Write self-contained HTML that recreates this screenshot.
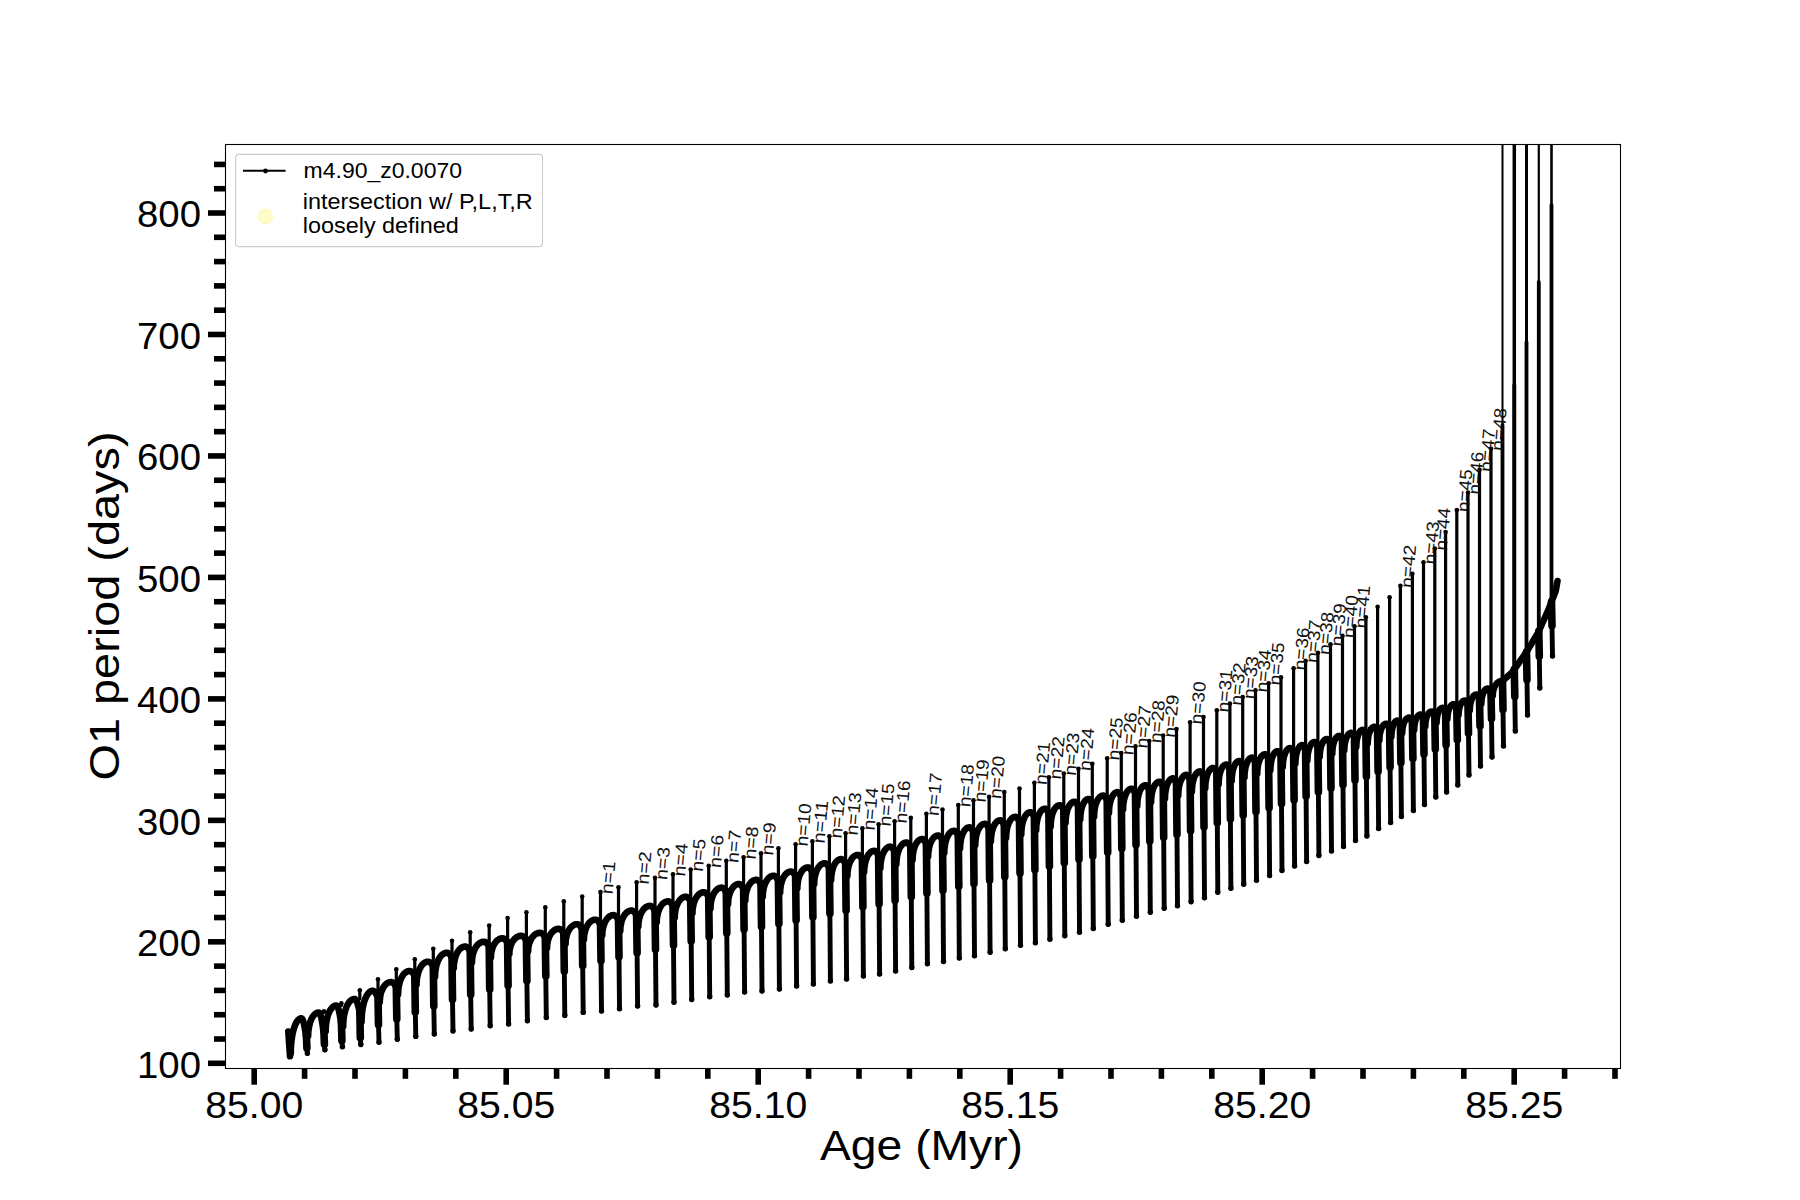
<!DOCTYPE html><html><head><meta charset="utf-8"><style>html,body{margin:0;padding:0;background:#fff;}svg{display:block;}</style></head><body><svg width="1800" height="1200" viewBox="0 0 1800 1200">
<rect width="1800" height="1200" fill="#fff"/>
<defs><clipPath id="ax"><rect x="225.5" y="144.5" width="1395" height="924"/></clipPath></defs>
<g clip-path="url(#ax)" fill="none" stroke="#000" stroke-linecap="round" stroke-linejoin="round">
<path d="M323.9,1011.3 L323.9,1012.5" stroke-width="3.2"/>
<path d="M341.4,1003.3 L341.4,1005.5" stroke-width="3.2"/>
<path d="M359.8,990.3 L359.8,999.0" stroke-width="3.2"/>
<path d="M378.0,979.3 L378.0,990.8" stroke-width="3.2"/>
<path d="M396.3,969.3 L396.3,982.0" stroke-width="3.2"/>
<path d="M414.8,959.3 L414.8,971.0" stroke-width="3.2"/>
<path d="M433.3,948.8 L433.3,961.7" stroke-width="3.2"/>
<path d="M452.0,940.8 L452.0,952.7" stroke-width="3.2"/>
<path d="M470.2,932.3 L470.2,946.5" stroke-width="3.2"/>
<path d="M489.2,925.6 L489.2,941.7" stroke-width="3.2"/>
<path d="M507.6,918.1 L507.6,938.3" stroke-width="3.2"/>
<path d="M526.4,912.3 L526.4,935.8" stroke-width="3.2"/>
<path d="M545.3,907.3 L545.3,932.8" stroke-width="3.2"/>
<path d="M563.8,901.3 L563.8,928.8" stroke-width="3.2"/>
<path d="M582.2,896.5 L582.2,924.2" stroke-width="3.2"/>
<path d="M600.5,892.0 L600.5,919.7" stroke-width="3.2"/>
<path d="M618.5,887.3 L618.5,915.1" stroke-width="3.2"/>
<path d="M636.6,882.3 L636.6,910.5" stroke-width="3.2"/>
<path d="M655.0,877.8 L655.0,905.9" stroke-width="3.2"/>
<path d="M673.0,874.2 L673.0,901.3" stroke-width="3.2"/>
<path d="M690.7,869.6 L690.7,896.7" stroke-width="3.2"/>
<path d="M708.7,865.7 L708.7,892.2" stroke-width="3.2"/>
<path d="M726.3,860.8 L726.3,887.6" stroke-width="3.2"/>
<path d="M743.6,857.3 L743.6,884.0" stroke-width="3.2"/>
<path d="M761.0,853.3 L761.0,879.9" stroke-width="3.2"/>
<path d="M778.4,848.3 L778.4,875.7" stroke-width="3.2"/>
<path d="M795.6,844.3 L795.6,871.5" stroke-width="3.2"/>
<path d="M812.4,841.3 L812.4,867.4" stroke-width="3.2"/>
<path d="M829.4,836.3 L829.4,863.2" stroke-width="3.2"/>
<path d="M845.6,833.3 L845.6,859.1" stroke-width="3.2"/>
<path d="M862.4,828.3 L862.4,855.0" stroke-width="3.2"/>
<path d="M878.6,824.3 L878.6,850.8" stroke-width="3.2"/>
<path d="M894.6,821.3 L894.6,846.6" stroke-width="3.2"/>
<path d="M910.8,817.8 L910.8,842.5" stroke-width="3.2"/>
<path d="M926.4,813.8 L926.4,839.0" stroke-width="3.2"/>
<path d="M942.5,809.6 L942.5,835.5" stroke-width="3.2"/>
<path d="M958.3,805.0 L958.3,830.8" stroke-width="3.2"/>
<path d="M973.5,800.3 L973.5,827.3" stroke-width="3.2"/>
<path d="M989.1,796.8 L989.1,823.8" stroke-width="3.2"/>
<path d="M1004.3,792.1 L1004.3,820.3" stroke-width="3.2"/>
<path d="M1019.5,788.6 L1019.5,816.8" stroke-width="3.2"/>
<path d="M1034.4,782.8 L1034.4,812.2" stroke-width="3.2"/>
<path d="M1048.9,777.3 L1048.9,808.7" stroke-width="3.2"/>
<path d="M1063.8,773.5 L1063.8,805.2" stroke-width="3.2"/>
<path d="M1078.5,768.8 L1078.5,801.7" stroke-width="3.2"/>
<path d="M1092.3,763.8 L1092.3,799.0" stroke-width="3.2"/>
<path d="M1107.2,758.3 L1107.2,795.6" stroke-width="3.2"/>
<path d="M1121.3,753.0 L1121.3,792.1" stroke-width="3.2"/>
<path d="M1135.5,746.3 L1135.5,788.7" stroke-width="3.2"/>
<path d="M1149.3,741.0 L1149.3,785.2" stroke-width="3.2"/>
<path d="M1163.2,735.6 L1163.2,781.8" stroke-width="3.2"/>
<path d="M1176.5,729.0 L1176.5,778.3" stroke-width="3.2"/>
<path d="M1190.1,722.3 L1190.1,774.9" stroke-width="3.2"/>
<path d="M1203.5,717.0 L1203.5,771.4" stroke-width="3.2"/>
<path d="M1216.8,710.3 L1216.8,768.0" stroke-width="3.2"/>
<path d="M1229.9,703.6 L1229.9,764.5" stroke-width="3.2"/>
<path d="M1242.7,697.0 L1242.7,761.1" stroke-width="3.2"/>
<path d="M1255.5,690.3 L1255.5,757.6" stroke-width="3.2"/>
<path d="M1268.6,683.3 L1268.6,754.2" stroke-width="3.2"/>
<path d="M1281.0,677.3 L1281.0,751.2" stroke-width="3.2"/>
<path d="M1293.6,668.3 L1293.6,748.1" stroke-width="3.2"/>
<path d="M1305.6,660.8 L1305.6,745.1" stroke-width="3.2"/>
<path d="M1317.9,652.7 L1317.9,742.0" stroke-width="3.2"/>
<path d="M1330.5,644.3 L1330.5,739.0" stroke-width="3.2"/>
<path d="M1342.5,635.9 L1342.5,735.9" stroke-width="3.2"/>
<path d="M1354.5,626.3 L1354.5,732.9" stroke-width="3.2"/>
<path d="M1365.9,617.3 L1365.9,729.8" stroke-width="3.2"/>
<path d="M1377.6,606.8 L1377.6,726.8" stroke-width="3.2"/>
<path d="M1389.6,597.3 L1389.6,723.7" stroke-width="3.2"/>
<path d="M1400.4,585.8 L1400.4,720.6" stroke-width="3.2"/>
<path d="M1412.4,573.8 L1412.4,717.6" stroke-width="3.2"/>
<path d="M1423.5,562.3 L1423.5,714.5" stroke-width="3.2"/>
<path d="M1434.8,548.6 L1434.8,711.5" stroke-width="3.2"/>
<path d="M1445.6,532.1 L1445.6,707.8" stroke-width="3.2"/>
<path d="M1456.8,510.1 L1456.8,704.2" stroke-width="3.2"/>
<path d="M1468.0,492.6 L1468.0,700.5" stroke-width="3.2"/>
<path d="M1479.5,469.8 L1479.5,694.5" stroke-width="3.2"/>
<path d="M1491.0,448.8 L1491.0,688.5" stroke-width="3.2"/>
<path d="M1502.5,102.3 L1502.5,681.0" stroke-width="2.0"/>
<path d="M1502.5,425.0 L1502.5,681.0" stroke-width="3.8"/>
<path d="M1514.3,102.3 L1514.3,669.4" stroke-width="3.5"/>
<path d="M1514.3,385.0 L1514.3,669.4" stroke-width="3.8"/>
<path d="M1526.5,102.3 L1526.5,652.0" stroke-width="3.0"/>
<path d="M1526.5,342.0 L1526.5,652.0" stroke-width="3.8"/>
<path d="M1538.8,102.3 L1538.8,631.3" stroke-width="2.2"/>
<path d="M1538.8,282.0 L1538.8,631.3" stroke-width="3.8"/>
<path d="M1551.5,102.3 L1551.5,601.8" stroke-width="2.6"/>
<path d="M1551.5,205.0 L1551.5,601.8" stroke-width="3.8"/>
<path d="M306.4,1035.8 L306.9,1048.0" stroke-width="7.6"/>
<path d="M323.9,1031.2 L324.4,1044.2" stroke-width="7.6"/>
<path d="M341.4,1022.0 L341.9,1040.6" stroke-width="7.6"/>
<path d="M359.8,1010.4 L360.3,1037.7" stroke-width="7.6"/>
<path d="M378.0,997.0 L378.5,1024.7" stroke-width="7.6"/>
<path d="M396.3,986.6 L396.8,1018.9" stroke-width="7.6"/>
<path d="M414.8,975.0 L415.3,1012.1" stroke-width="7.6"/>
<path d="M433.3,965.7 L433.8,1006.0" stroke-width="7.6"/>
<path d="M452.0,956.7 L452.5,999.5" stroke-width="7.6"/>
<path d="M470.2,950.5 L470.7,994.5" stroke-width="7.6"/>
<path d="M489.2,945.7 L489.7,989.2" stroke-width="7.6"/>
<path d="M507.6,942.3 L508.1,985.4" stroke-width="7.6"/>
<path d="M526.4,939.8 L526.9,980.8" stroke-width="7.6"/>
<path d="M545.3,936.8 L545.8,976.0" stroke-width="7.6"/>
<path d="M563.8,932.8 L564.3,971.3" stroke-width="7.6"/>
<path d="M582.2,928.2 L582.7,965.7" stroke-width="7.6"/>
<path d="M600.5,923.7 L601.0,960.8" stroke-width="7.6"/>
<path d="M618.5,919.1 L619.0,956.9" stroke-width="7.6"/>
<path d="M636.6,914.5 L637.1,952.8" stroke-width="7.6"/>
<path d="M655.0,909.9 L655.5,949.4" stroke-width="7.6"/>
<path d="M673.0,905.3 L673.5,945.2" stroke-width="7.6"/>
<path d="M690.7,900.7 L691.2,941.1" stroke-width="7.6"/>
<path d="M708.7,896.2 L709.2,936.9" stroke-width="7.6"/>
<path d="M726.3,891.6 L726.8,933.1" stroke-width="7.6"/>
<path d="M743.6,888.0 L744.1,929.4" stroke-width="7.6"/>
<path d="M761.0,883.9 L761.5,926.7" stroke-width="7.6"/>
<path d="M778.4,879.7 L778.9,923.6" stroke-width="7.6"/>
<path d="M795.6,875.5 L796.1,920.1" stroke-width="7.6"/>
<path d="M812.4,871.4 L812.9,917.0" stroke-width="7.6"/>
<path d="M829.4,867.2 L829.9,913.5" stroke-width="7.6"/>
<path d="M845.6,863.1 L846.1,910.4" stroke-width="7.6"/>
<path d="M862.4,859.0 L862.9,906.9" stroke-width="7.6"/>
<path d="M878.6,854.8 L879.1,903.9" stroke-width="7.6"/>
<path d="M894.6,850.6 L895.1,900.4" stroke-width="7.6"/>
<path d="M910.8,846.5 L911.3,896.7" stroke-width="7.6"/>
<path d="M926.4,843.0 L926.9,893.2" stroke-width="7.6"/>
<path d="M942.5,839.5 L943.0,890.4" stroke-width="7.6"/>
<path d="M958.3,834.8 L958.8,886.4" stroke-width="7.6"/>
<path d="M973.5,831.3 L974.0,883.6" stroke-width="7.6"/>
<path d="M989.1,827.8 L989.6,880.3" stroke-width="7.6"/>
<path d="M1004.3,824.3 L1004.8,876.8" stroke-width="7.6"/>
<path d="M1019.5,820.8 L1020.0,873.3" stroke-width="7.6"/>
<path d="M1034.4,816.2 L1034.9,869.7" stroke-width="7.6"/>
<path d="M1048.9,812.7 L1049.4,866.2" stroke-width="7.6"/>
<path d="M1063.8,809.2 L1064.3,862.7" stroke-width="7.6"/>
<path d="M1078.5,805.7 L1079.0,859.2" stroke-width="7.6"/>
<path d="M1092.3,803.0 L1092.8,856.0" stroke-width="7.6"/>
<path d="M1107.2,799.6 L1107.7,852.2" stroke-width="7.6"/>
<path d="M1121.3,796.1 L1121.8,848.5" stroke-width="7.6"/>
<path d="M1135.5,792.7 L1136.0,844.8" stroke-width="7.6"/>
<path d="M1149.3,789.2 L1149.8,841.1" stroke-width="7.6"/>
<path d="M1163.2,785.8 L1163.7,837.4" stroke-width="7.6"/>
<path d="M1176.5,782.3 L1177.0,834.4" stroke-width="7.6"/>
<path d="M1190.1,778.9 L1190.6,830.7" stroke-width="7.6"/>
<path d="M1203.5,775.4 L1204.0,827.0" stroke-width="7.6"/>
<path d="M1216.8,772.0 L1217.3,822.7" stroke-width="7.6"/>
<path d="M1229.9,768.5 L1230.4,819.0" stroke-width="7.6"/>
<path d="M1242.7,765.1 L1243.2,815.3" stroke-width="7.6"/>
<path d="M1255.5,761.6 L1256.0,811.6" stroke-width="7.6"/>
<path d="M1268.6,758.2 L1269.1,807.6" stroke-width="7.6"/>
<path d="M1281.0,755.2 L1281.5,803.7" stroke-width="7.6"/>
<path d="M1293.6,752.1 L1294.1,800.0" stroke-width="7.6"/>
<path d="M1305.6,749.1 L1306.1,796.3" stroke-width="7.6"/>
<path d="M1317.9,746.0 L1318.4,791.9" stroke-width="7.6"/>
<path d="M1330.5,743.0 L1331.0,788.3" stroke-width="7.6"/>
<path d="M1342.5,739.9 L1343.0,784.6" stroke-width="7.6"/>
<path d="M1354.5,736.9 L1355.0,780.2" stroke-width="7.6"/>
<path d="M1365.9,733.8 L1366.4,776.5" stroke-width="7.6"/>
<path d="M1377.6,730.8 L1378.1,771.5" stroke-width="7.6"/>
<path d="M1389.6,727.7 L1390.1,767.2" stroke-width="7.6"/>
<path d="M1400.4,724.6 L1400.9,762.8" stroke-width="7.6"/>
<path d="M1412.4,721.6 L1412.9,758.5" stroke-width="7.6"/>
<path d="M1423.5,718.5 L1424.0,754.1" stroke-width="7.6"/>
<path d="M1434.8,715.5 L1435.3,749.1" stroke-width="7.6"/>
<path d="M1445.6,711.8 L1446.1,744.9" stroke-width="7.6"/>
<path d="M1456.8,708.2 L1457.3,739.7" stroke-width="7.6"/>
<path d="M1468.0,704.5 L1468.5,733.3" stroke-width="7.6"/>
<path d="M1479.5,698.5 L1480.0,726.0" stroke-width="7.6"/>
<path d="M1491.0,692.5 L1491.5,718.6" stroke-width="7.6"/>
<path d="M1502.5,681.0 L1503.0,709.6" stroke-width="7.6"/>
<path d="M1514.3,669.4 L1514.8,696.5" stroke-width="7.6"/>
<path d="M1526.5,652.0 L1527.0,679.7" stroke-width="7.6"/>
<path d="M1538.8,631.3 L1539.3,656.3" stroke-width="7.6"/>
<path d="M1551.5,601.8 L1552.0,625.6" stroke-width="7.6"/>
<path d="M306.9,1048.0 L307.4,1053.3" stroke-width="4.9"/>
<path d="M324.4,1044.2 L324.9,1049.8" stroke-width="4.9"/>
<path d="M341.9,1040.6 L342.4,1046.8" stroke-width="4.9"/>
<path d="M360.3,1037.7 L360.8,1044.5" stroke-width="4.9"/>
<path d="M378.5,1024.7 L379.0,1042.2" stroke-width="4.9"/>
<path d="M396.8,1018.9 L397.3,1039.3" stroke-width="4.9"/>
<path d="M415.3,1012.1 L415.8,1036.4" stroke-width="4.9"/>
<path d="M433.8,1006.0 L434.3,1034.0" stroke-width="4.9"/>
<path d="M452.5,999.5 L453.0,1031.0" stroke-width="4.9"/>
<path d="M470.7,994.5 L471.2,1029.0" stroke-width="4.9"/>
<path d="M489.7,989.2 L490.2,1025.7" stroke-width="4.9"/>
<path d="M508.1,985.4 L508.6,1024.0" stroke-width="4.9"/>
<path d="M526.9,980.8 L527.4,1020.7" stroke-width="4.9"/>
<path d="M545.8,976.0 L546.3,1017.5" stroke-width="4.9"/>
<path d="M564.3,971.3 L564.8,1015.5" stroke-width="4.9"/>
<path d="M582.7,965.7 L583.2,1012.4" stroke-width="4.9"/>
<path d="M601.0,960.8 L601.5,1011.1" stroke-width="4.9"/>
<path d="M619.0,956.9 L619.5,1008.7" stroke-width="4.9"/>
<path d="M637.1,952.8 L637.6,1006.0" stroke-width="4.9"/>
<path d="M655.5,949.4 L656.0,1005.0" stroke-width="4.9"/>
<path d="M673.5,945.2 L674.0,1002.3" stroke-width="4.9"/>
<path d="M691.2,941.1 L691.7,999.6" stroke-width="4.9"/>
<path d="M709.2,936.9 L709.7,996.8" stroke-width="4.9"/>
<path d="M726.8,933.1 L727.3,995.0" stroke-width="4.9"/>
<path d="M744.1,929.4 L744.6,992.0" stroke-width="4.9"/>
<path d="M761.5,926.7 L762.0,991.0" stroke-width="4.9"/>
<path d="M778.9,923.6 L779.4,989.0" stroke-width="4.9"/>
<path d="M796.1,920.1 L796.6,986.0" stroke-width="4.9"/>
<path d="M812.9,917.0 L813.4,984.0" stroke-width="4.9"/>
<path d="M829.9,913.5 L830.4,981.0" stroke-width="4.9"/>
<path d="M846.1,910.4 L846.6,979.0" stroke-width="4.9"/>
<path d="M862.9,906.9 L863.4,976.0" stroke-width="4.9"/>
<path d="M879.1,903.9 L879.6,974.0" stroke-width="4.9"/>
<path d="M895.1,900.4 L895.6,971.0" stroke-width="4.9"/>
<path d="M911.3,896.7 L911.8,967.5" stroke-width="4.9"/>
<path d="M926.9,893.2 L927.4,963.8" stroke-width="4.9"/>
<path d="M943.0,890.4 L943.5,961.5" stroke-width="4.9"/>
<path d="M958.8,886.4 L959.3,958.0" stroke-width="4.9"/>
<path d="M974.0,883.6 L974.5,955.7" stroke-width="4.9"/>
<path d="M989.6,880.3 L990.1,952.2" stroke-width="4.9"/>
<path d="M1004.8,876.8 L1005.3,948.7" stroke-width="4.9"/>
<path d="M1020.0,873.3 L1020.5,945.2" stroke-width="4.9"/>
<path d="M1034.9,869.7 L1035.4,942.8" stroke-width="4.9"/>
<path d="M1049.4,866.2 L1049.9,939.3" stroke-width="4.9"/>
<path d="M1064.3,862.7 L1064.8,935.8" stroke-width="4.9"/>
<path d="M1079.0,859.2 L1079.5,932.3" stroke-width="4.9"/>
<path d="M1092.8,856.0 L1093.3,928.5" stroke-width="4.9"/>
<path d="M1107.7,852.2 L1108.2,924.3" stroke-width="4.9"/>
<path d="M1121.8,848.5 L1122.3,920.3" stroke-width="4.9"/>
<path d="M1136.0,844.8 L1136.5,916.3" stroke-width="4.9"/>
<path d="M1149.8,841.1 L1150.3,912.3" stroke-width="4.9"/>
<path d="M1163.7,837.4 L1164.2,908.3" stroke-width="4.9"/>
<path d="M1177.0,834.4 L1177.5,905.7" stroke-width="4.9"/>
<path d="M1190.6,830.7 L1191.1,901.7" stroke-width="4.9"/>
<path d="M1204.0,827.0 L1204.5,897.7" stroke-width="4.9"/>
<path d="M1217.3,822.7 L1217.8,892.3" stroke-width="4.9"/>
<path d="M1230.4,819.0 L1230.9,888.3" stroke-width="4.9"/>
<path d="M1243.2,815.3 L1243.7,884.3" stroke-width="4.9"/>
<path d="M1256.0,811.6 L1256.5,880.3" stroke-width="4.9"/>
<path d="M1269.1,807.6 L1269.6,875.5" stroke-width="4.9"/>
<path d="M1281.5,803.7 L1282.0,870.5" stroke-width="4.9"/>
<path d="M1294.1,800.0 L1294.6,866.0" stroke-width="4.9"/>
<path d="M1306.1,796.3 L1306.6,861.5" stroke-width="4.9"/>
<path d="M1318.4,791.9 L1318.9,855.5" stroke-width="4.9"/>
<path d="M1331.0,788.3 L1331.5,851.0" stroke-width="4.9"/>
<path d="M1343.0,784.6 L1343.5,846.5" stroke-width="4.9"/>
<path d="M1355.0,780.2 L1355.5,840.5" stroke-width="4.9"/>
<path d="M1366.4,776.5 L1366.9,836.0" stroke-width="4.9"/>
<path d="M1378.1,771.5 L1378.6,828.5" stroke-width="4.9"/>
<path d="M1390.1,767.2 L1390.6,822.5" stroke-width="4.9"/>
<path d="M1400.9,762.8 L1401.4,816.5" stroke-width="4.9"/>
<path d="M1412.9,758.5 L1413.4,810.5" stroke-width="4.9"/>
<path d="M1424.0,754.1 L1424.5,804.5" stroke-width="4.9"/>
<path d="M1435.3,749.1 L1435.8,797.0" stroke-width="4.9"/>
<path d="M1446.1,744.9 L1446.6,792.0" stroke-width="4.9"/>
<path d="M1457.3,739.7 L1457.8,785.0" stroke-width="4.9"/>
<path d="M1468.5,733.3 L1469.0,775.0" stroke-width="4.9"/>
<path d="M1480.0,726.0 L1480.5,766.0" stroke-width="4.9"/>
<path d="M1491.5,718.6 L1492.0,757.0" stroke-width="4.9"/>
<path d="M1503.0,709.6 L1503.5,746.0" stroke-width="4.9"/>
<path d="M1514.8,696.5 L1515.3,731.0" stroke-width="4.9"/>
<path d="M1527.0,679.7 L1527.5,715.0" stroke-width="4.9"/>
<path d="M1539.3,656.3 L1539.8,688.0" stroke-width="4.9"/>
<path d="M1552.0,625.6 L1552.5,656.0" stroke-width="4.9"/>
<g stroke-width="6.6">
<path d="M288.3,1031.5 L290.0,1056.2"/>
<path d="M290.8,1053.2 L290.8,1050.3 L290.9,1047.5 L291.1,1044.6 L291.4,1041.9 L291.7,1039.2 L292.1,1036.6 L292.5,1034.1 L293.0,1031.8 L293.6,1029.6 L294.2,1027.5 L294.9,1025.7 L295.6,1024.0 L296.3,1022.5 L297.1,1021.2 L297.9,1020.2 L298.8,1019.4 L299.6,1018.8 L300.5,1018.4 L301.4,1018.3 L301.9,1018.5 L302.4,1019.2 L302.9,1020.2 L303.4,1021.8 L303.9,1023.7 L304.4,1026.1 L304.9,1028.9 L305.4,1032.1 L305.9,1035.8"/>
<path d="M308.2,1035.8 L308.2,1033.9 L308.3,1032.0 L308.5,1030.1 L308.8,1028.2 L309.1,1026.4 L309.5,1024.7 L309.9,1023.1 L310.4,1021.5 L311.0,1020.0 L311.6,1018.7 L312.3,1017.4 L313.0,1016.3 L313.8,1015.3 L314.6,1014.5 L315.4,1013.8 L316.2,1013.2 L317.1,1012.8 L318.0,1012.6 L318.8,1012.5 L319.3,1012.7 L319.9,1013.4 L320.4,1014.6 L320.9,1016.2 L321.4,1018.3 L321.9,1020.8 L322.4,1023.8 L322.9,1027.2 L323.4,1031.2"/>
<path d="M325.7,1031.2 L325.7,1029.0 L325.8,1026.9 L326.0,1024.9 L326.3,1022.8 L326.6,1020.8 L327.0,1018.9 L327.4,1017.1 L327.9,1015.4 L328.5,1013.8 L329.1,1012.3 L329.8,1010.9 L330.5,1009.7 L331.3,1008.6 L332.1,1007.7 L332.9,1006.9 L333.7,1006.3 L334.6,1005.8 L335.5,1005.6 L336.3,1005.5 L336.8,1005.7 L337.4,1006.3 L337.9,1007.3 L338.4,1008.8 L338.9,1010.6 L339.4,1012.8 L339.9,1015.5 L340.4,1018.6 L340.9,1022.0"/>
<path d="M343.2,1026.2 L343.2,1023.9 L343.4,1021.7 L343.5,1019.5 L343.8,1017.3 L344.1,1015.2 L344.6,1013.2 L345.0,1011.3 L345.6,1009.5 L346.2,1007.8 L346.8,1006.2 L347.5,1004.7 L348.3,1003.4 L349.1,1002.3 L349.9,1001.3 L350.8,1000.5 L351.7,999.8 L352.6,999.4 L353.5,999.1 L354.5,999.0 L355.0,999.1 L355.5,999.6 L356.1,1000.3 L356.6,1001.2 L357.2,1002.5 L357.7,1004.1 L358.2,1005.9 L358.8,1008.0 L359.3,1010.4"/>
<path d="M361.6,1021.8 L361.6,1019.2 L361.8,1016.7 L361.9,1014.2 L362.2,1011.7 L362.5,1009.3 L362.9,1007.0 L363.4,1004.8 L363.9,1002.7 L364.5,1000.8 L365.2,999.0 L365.9,997.3 L366.6,995.8 L367.4,994.5 L368.3,993.4 L369.1,992.5 L370.0,991.7 L370.9,991.2 L371.8,990.9 L372.7,990.8 L373.3,990.9 L373.8,991.1 L374.3,991.5 L374.9,992.0 L375.4,992.7 L375.9,993.5 L376.4,994.5 L377.0,995.7 L377.5,997.0"/>
<path d="M379.8,1002.1 L379.8,1000.4 L380.0,998.8 L380.1,997.2 L380.4,995.6 L380.7,994.0 L381.1,992.5 L381.6,991.1 L382.2,989.8 L382.8,988.5 L383.4,987.3 L384.1,986.2 L384.9,985.3 L385.7,984.4 L386.5,983.7 L387.4,983.1 L388.3,982.6 L389.2,982.3 L390.1,982.1 L391.0,982.0 L391.5,982.1 L392.1,982.2 L392.6,982.5 L393.1,982.9 L393.7,983.4 L394.2,984.0 L394.7,984.8 L395.3,985.6 L395.8,986.6"/>
<path d="M398.1,994.3 L398.1,992.4 L398.3,990.4 L398.4,988.6 L398.7,986.7 L399.1,984.9 L399.5,983.2 L399.9,981.5 L400.5,980.0 L401.1,978.5 L401.8,977.2 L402.5,975.9 L403.2,974.8 L404.0,973.8 L404.9,973.0 L405.8,972.3 L406.7,971.7 L407.6,971.3 L408.5,971.1 L409.4,971.0 L410.0,971.0 L410.5,971.2 L411.1,971.4 L411.6,971.8 L412.1,972.2 L412.7,972.8 L413.2,973.4 L413.8,974.2 L414.3,975.0"/>
<path d="M416.6,984.6 L416.6,982.7 L416.8,980.9 L416.9,979.0 L417.2,977.2 L417.6,975.4 L418.0,973.7 L418.4,972.1 L419.0,970.6 L419.6,969.1 L420.3,967.8 L421.0,966.5 L421.7,965.4 L422.5,964.5 L423.4,963.6 L424.3,962.9 L425.2,962.4 L426.1,962.0 L427.0,961.8 L427.9,961.7 L428.5,961.7 L429.0,961.9 L429.6,962.1 L430.1,962.5 L430.6,962.9 L431.2,963.5 L431.7,964.1 L432.3,964.9 L432.8,965.7"/>
<path d="M435.1,976.4 L435.1,974.5 L435.2,972.7 L435.4,970.8 L435.7,969.1 L436.0,967.3 L436.4,965.6 L436.8,964.0 L437.4,962.5 L437.9,961.0 L438.6,959.6 L439.2,958.4 L440.0,957.2 L440.7,956.2 L441.5,955.3 L442.4,954.5 L443.3,953.9 L444.2,953.4 L445.1,953.0 L446.0,952.8 L446.9,952.7 L447.5,952.8 L448.1,953.0 L448.6,953.3 L449.2,953.7 L449.8,954.3 L450.4,955.0 L450.9,955.8 L451.5,956.7"/>
<path d="M453.8,968.1 L453.8,966.4 L453.9,964.8 L454.1,963.1 L454.4,961.5 L454.7,959.9 L455.0,958.3 L455.5,956.8 L456.0,955.4 L456.5,954.1 L457.2,952.8 L457.8,951.7 L458.5,950.6 L459.3,949.7 L460.1,948.9 L460.9,948.1 L461.7,947.6 L462.6,947.1 L463.5,946.8 L464.3,946.6 L465.2,946.5 L465.8,946.6 L466.4,946.8 L466.9,947.1 L467.5,947.5 L468.0,948.1 L468.6,948.8 L469.1,949.6 L469.7,950.5"/>
<path d="M472.0,962.3 L472.0,960.7 L472.1,959.1 L472.3,957.5 L472.6,955.9 L472.9,954.4 L473.3,952.9 L473.8,951.5 L474.3,950.2 L474.9,948.9 L475.5,947.7 L476.2,946.6 L477.0,945.6 L477.7,944.7 L478.6,943.9 L479.4,943.3 L480.3,942.7 L481.2,942.3 L482.1,942.0 L483.1,941.8 L484.0,941.7 L484.6,941.8 L485.2,942.0 L485.8,942.3 L486.4,942.7 L486.9,943.3 L487.5,944.0 L488.1,944.8 L488.7,945.7"/>
<path d="M491.0,957.3 L491.0,955.8 L491.1,954.3 L491.3,952.9 L491.6,951.4 L491.9,950.0 L492.3,948.7 L492.7,947.4 L493.2,946.1 L493.8,945.0 L494.4,943.9 L495.1,942.9 L495.8,941.9 L496.5,941.1 L497.3,940.4 L498.2,939.7 L499.0,939.2 L499.9,938.8 L500.8,938.5 L501.7,938.4 L502.6,938.3 L503.2,938.4 L503.7,938.5 L504.3,938.9 L504.8,939.3 L505.4,939.9 L506.0,940.5 L506.5,941.4 L507.1,942.3"/>
<path d="M509.4,953.7 L509.4,952.3 L509.5,950.9 L509.7,949.5 L510.0,948.2 L510.3,946.9 L510.7,945.6 L511.2,944.4 L511.7,943.2 L512.2,942.1 L512.9,941.1 L513.6,940.1 L514.3,939.2 L515.1,938.4 L515.9,937.8 L516.7,937.2 L517.6,936.7 L518.5,936.3 L519.4,936.0 L520.3,935.9 L521.3,935.8 L521.9,935.9 L522.4,936.0 L523.0,936.4 L523.6,936.8 L524.2,937.4 L524.7,938.0 L525.3,938.9 L525.9,939.8"/>
<path d="M528.2,950.9 L528.2,949.5 L528.3,948.1 L528.5,946.7 L528.8,945.3 L529.1,944.0 L529.5,942.7 L530.0,941.4 L530.5,940.3 L531.1,939.1 L531.7,938.1 L532.4,937.1 L533.1,936.3 L533.9,935.5 L534.7,934.8 L535.6,934.2 L536.5,933.7 L537.4,933.3 L538.3,933.0 L539.2,932.9 L540.2,932.8 L540.7,932.9 L541.3,933.0 L541.9,933.4 L542.5,933.8 L543.1,934.4 L543.6,935.0 L544.2,935.9 L544.8,936.8"/>
<path d="M547.1,947.7 L547.1,946.2 L547.2,944.7 L547.4,943.3 L547.7,941.8 L548.0,940.4 L548.4,939.1 L548.8,937.8 L549.3,936.6 L549.9,935.4 L550.5,934.3 L551.2,933.3 L551.9,932.4 L552.7,931.6 L553.5,930.9 L554.3,930.2 L555.2,929.7 L556.0,929.3 L556.9,929.0 L557.8,928.9 L558.8,928.8 L559.3,928.9 L559.9,929.0 L560.5,929.4 L561.0,929.8 L561.6,930.4 L562.2,931.0 L562.7,931.9 L563.3,932.8"/>
<path d="M565.6,943.8 L565.6,942.3 L565.7,940.8 L565.9,939.2 L566.2,937.8 L566.5,936.3 L566.9,934.9 L567.3,933.6 L567.8,932.3 L568.4,931.1 L569.0,929.9 L569.7,928.9 L570.4,927.9 L571.1,927.1 L571.9,926.3 L572.8,925.7 L573.6,925.2 L574.5,924.7 L575.4,924.4 L576.3,924.3 L577.2,924.2 L577.8,924.3 L578.3,924.5 L578.9,924.8 L579.4,925.2 L580.0,925.8 L580.6,926.5 L581.1,927.3 L581.7,928.2"/>
<path d="M584.0,939.3 L584.0,937.8 L584.1,936.2 L584.3,934.7 L584.6,933.2 L584.9,931.8 L585.3,930.4 L585.7,929.1 L586.2,927.8 L586.8,926.6 L587.4,925.4 L588.0,924.4 L588.7,923.4 L589.5,922.6 L590.3,921.8 L591.1,921.2 L592.0,920.7 L592.8,920.2 L593.7,919.9 L594.6,919.8 L595.5,919.7 L596.1,919.8 L596.6,920.0 L597.2,920.3 L597.8,920.7 L598.3,921.3 L598.9,922.0 L599.4,922.8 L600.0,923.7"/>
<path d="M602.3,935.1 L602.3,933.6 L602.4,932.0 L602.6,930.5 L602.9,928.9 L603.2,927.5 L603.5,926.0 L604.0,924.7 L604.5,923.4 L605.0,922.1 L605.6,921.0 L606.3,919.9 L607.0,918.9 L607.7,918.1 L608.5,917.3 L609.3,916.6 L610.1,916.1 L611.0,915.7 L611.8,915.3 L612.7,915.2 L613.6,915.1 L614.2,915.2 L614.7,915.4 L615.3,915.7 L615.8,916.1 L616.4,916.7 L616.9,917.4 L617.5,918.2 L618.0,919.1"/>
<path d="M620.3,930.7 L620.3,929.1 L620.4,927.5 L620.6,926.0 L620.9,924.5 L621.2,923.0 L621.5,921.5 L622.0,920.1 L622.5,918.8 L623.0,917.6 L623.6,916.4 L624.3,915.3 L625.0,914.4 L625.7,913.5 L626.5,912.7 L627.3,912.0 L628.2,911.5 L629.0,911.1 L629.9,910.7 L630.8,910.6 L631.7,910.5 L632.2,910.6 L632.8,910.8 L633.3,911.1 L633.9,911.5 L634.4,912.1 L635.0,912.8 L635.5,913.6 L636.1,914.5"/>
<path d="M638.4,926.2 L638.4,924.6 L638.5,923.0 L638.7,921.5 L639.0,919.9 L639.3,918.4 L639.7,917.0 L640.1,915.6 L640.6,914.3 L641.2,913.0 L641.8,911.8 L642.5,910.8 L643.2,909.8 L643.9,908.9 L644.7,908.1 L645.6,907.4 L646.4,906.9 L647.3,906.5 L648.2,906.1 L649.1,906.0 L650.0,905.9 L650.6,906.0 L651.1,906.1 L651.7,906.5 L652.2,906.9 L652.8,907.5 L653.4,908.1 L653.9,909.0 L654.5,909.9"/>
<path d="M656.8,922.0 L656.8,920.4 L656.9,918.7 L657.1,917.1 L657.4,915.6 L657.7,914.1 L658.0,912.6 L658.5,911.2 L659.0,909.8 L659.5,908.5 L660.1,907.4 L660.8,906.3 L661.5,905.2 L662.2,904.3 L663.0,903.6 L663.8,902.9 L664.6,902.3 L665.5,901.9 L666.3,901.6 L667.2,901.4 L668.1,901.3 L668.7,901.4 L669.2,901.5 L669.8,901.9 L670.3,902.3 L670.9,902.9 L671.4,903.5 L672.0,904.4 L672.5,905.3"/>
<path d="M674.8,917.5 L674.8,915.8 L674.9,914.2 L675.1,912.6 L675.3,911.0 L675.6,909.5 L676.0,908.0 L676.4,906.6 L676.9,905.3 L677.5,904.0 L678.0,902.8 L678.7,901.7 L679.4,900.7 L680.1,899.8 L680.9,899.0 L681.6,898.3 L682.5,897.7 L683.3,897.3 L684.2,897.0 L685.0,896.8 L685.9,896.7 L686.4,896.8 L687.0,897.0 L687.5,897.3 L688.0,897.7 L688.6,898.3 L689.1,899.0 L689.7,899.8 L690.2,900.7"/>
<path d="M692.5,912.9 L692.5,911.3 L692.6,909.7 L692.8,908.1 L693.1,906.5 L693.4,905.0 L693.7,903.5 L694.2,902.1 L694.7,900.7 L695.2,899.5 L695.8,898.3 L696.5,897.2 L697.2,896.2 L697.9,895.3 L698.7,894.5 L699.5,893.8 L700.3,893.2 L701.2,892.8 L702.0,892.5 L702.9,892.3 L703.8,892.2 L704.4,892.3 L704.9,892.5 L705.5,892.8 L706.0,893.2 L706.6,893.8 L707.1,894.5 L707.7,895.3 L708.2,896.2"/>
<path d="M710.5,908.5 L710.5,906.8 L710.6,905.2 L710.8,903.6 L711.0,902.0 L711.3,900.5 L711.7,899.0 L712.1,897.6 L712.6,896.2 L713.1,894.9 L713.7,893.7 L714.4,892.6 L715.0,891.6 L715.8,890.7 L716.5,889.9 L717.3,889.2 L718.1,888.6 L718.9,888.2 L719.8,887.9 L720.7,887.7 L721.5,887.6 L722.1,887.7 L722.6,887.9 L723.1,888.2 L723.7,888.6 L724.2,889.2 L724.7,889.9 L725.3,890.7 L725.8,891.6"/>
<path d="M728.1,904.1 L728.1,902.5 L728.2,900.9 L728.4,899.4 L728.6,897.9 L728.9,896.4 L729.3,895.0 L729.7,893.6 L730.2,892.3 L730.7,891.0 L731.3,889.9 L731.9,888.8 L732.6,887.8 L733.3,887.0 L734.0,886.2 L734.8,885.5 L735.6,885.0 L736.4,884.6 L737.2,884.2 L738.1,884.1 L738.9,884.0 L739.4,884.1 L740.0,884.2 L740.5,884.6 L741.0,885.0 L741.5,885.6 L742.0,886.2 L742.6,887.1 L743.1,888.0"/>
<path d="M745.4,900.3 L745.4,898.7 L745.5,897.1 L745.7,895.5 L745.9,894.0 L746.2,892.5 L746.6,891.0 L747.0,889.6 L747.5,888.3 L748.0,887.0 L748.6,885.8 L749.2,884.8 L749.9,883.8 L750.6,882.9 L751.3,882.1 L752.1,881.4 L752.9,880.9 L753.7,880.4 L754.6,880.1 L755.4,879.9 L756.3,879.9 L756.8,879.9 L757.3,880.1 L757.9,880.4 L758.4,880.9 L758.9,881.4 L759.4,882.1 L760.0,882.9 L760.5,883.9"/>
<path d="M762.8,896.4 L762.8,894.8 L762.9,893.2 L763.1,891.6 L763.3,890.0 L763.6,888.5 L764.0,887.0 L764.4,885.6 L764.9,884.2 L765.4,883.0 L766.0,881.8 L766.6,880.7 L767.3,879.7 L768.0,878.8 L768.7,878.0 L769.5,877.3 L770.3,876.7 L771.1,876.3 L772.0,876.0 L772.8,875.8 L773.7,875.7 L774.2,875.8 L774.7,876.0 L775.3,876.3 L775.8,876.7 L776.3,877.3 L776.8,878.0 L777.4,878.8 L777.9,879.7"/>
<path d="M780.2,892.3 L780.2,890.7 L780.3,889.1 L780.5,887.5 L780.7,885.9 L781.0,884.4 L781.4,882.9 L781.8,881.5 L782.2,880.1 L782.8,878.8 L783.3,877.6 L784.0,876.5 L784.6,875.5 L785.3,874.6 L786.1,873.8 L786.8,873.1 L787.6,872.6 L788.4,872.1 L789.2,871.8 L790.1,871.6 L790.9,871.5 L791.4,871.6 L792.0,871.8 L792.5,872.1 L793.0,872.5 L793.5,873.1 L794.1,873.8 L794.6,874.6 L795.1,875.5"/>
<path d="M797.4,888.1 L797.4,886.5 L797.5,884.8 L797.7,883.3 L797.9,881.7 L798.2,880.2 L798.5,878.7 L798.9,877.3 L799.4,875.9 L799.9,874.6 L800.5,873.5 L801.1,872.4 L801.7,871.3 L802.4,870.4 L803.1,869.7 L803.8,869.0 L804.6,868.4 L805.4,868.0 L806.2,867.7 L807.0,867.5 L807.8,867.4 L808.3,867.5 L808.9,867.6 L809.4,868.0 L809.9,868.4 L810.4,869.0 L810.9,869.6 L811.4,870.5 L811.9,871.4"/>
<path d="M814.2,884.0 L814.2,882.4 L814.3,880.7 L814.5,879.1 L814.7,877.6 L815.0,876.0 L815.4,874.6 L815.8,873.2 L816.2,871.8 L816.7,870.5 L817.3,869.3 L817.9,868.2 L818.6,867.2 L819.3,866.3 L820.0,865.5 L820.7,864.8 L821.5,864.3 L822.3,863.8 L823.1,863.5 L824.0,863.3 L824.8,863.2 L825.3,863.3 L825.8,863.5 L826.3,863.8 L826.8,864.2 L827.4,864.8 L827.9,865.5 L828.4,866.3 L828.9,867.2"/>
<path d="M831.2,879.7 L831.2,878.1 L831.3,876.5 L831.5,874.9 L831.7,873.4 L832.0,871.8 L832.3,870.4 L832.7,869.0 L833.1,867.6 L833.6,866.3 L834.1,865.1 L834.7,864.0 L835.3,863.0 L836.0,862.1 L836.7,861.3 L837.4,860.7 L838.1,860.1 L838.9,859.7 L839.6,859.4 L840.4,859.2 L841.2,859.1 L841.7,859.2 L842.2,859.4 L842.7,859.7 L843.2,860.1 L843.6,860.7 L844.1,861.4 L844.6,862.2 L845.1,863.1"/>
<path d="M847.4,875.8 L847.4,874.2 L847.5,872.6 L847.7,871.0 L847.9,869.4 L848.2,867.8 L848.5,866.4 L848.9,864.9 L849.4,863.6 L849.9,862.3 L850.5,861.1 L851.1,860.0 L851.7,858.9 L852.4,858.0 L853.1,857.2 L853.8,856.5 L854.6,856.0 L855.4,855.5 L856.2,855.2 L857.0,855.0 L857.8,855.0 L858.3,855.0 L858.9,855.2 L859.4,855.5 L859.9,856.0 L860.4,856.5 L860.9,857.2 L861.4,858.0 L861.9,859.0"/>
<path d="M864.2,871.8 L864.2,870.2 L864.3,868.5 L864.5,866.9 L864.7,865.3 L865.0,863.8 L865.3,862.3 L865.7,860.8 L866.1,859.5 L866.6,858.2 L867.1,857.0 L867.7,855.8 L868.3,854.8 L869.0,853.9 L869.7,853.1 L870.4,852.4 L871.1,851.8 L871.9,851.4 L872.6,851.1 L873.4,850.9 L874.2,850.8 L874.7,850.9 L875.2,851.0 L875.7,851.4 L876.2,851.8 L876.6,852.4 L877.1,853.0 L877.6,853.9 L878.1,854.8"/>
<path d="M880.4,867.9 L880.4,866.3 L880.5,864.6 L880.7,863.0 L880.9,861.4 L881.2,859.8 L881.5,858.3 L881.9,856.8 L882.3,855.4 L882.8,854.1 L883.3,852.9 L883.9,851.7 L884.5,850.7 L885.1,849.8 L885.8,849.0 L886.5,848.3 L887.2,847.7 L888.0,847.2 L888.7,846.9 L889.5,846.7 L890.3,846.6 L890.7,846.7 L891.2,846.9 L891.7,847.2 L892.2,847.6 L892.7,848.2 L893.1,848.9 L893.6,849.7 L894.1,850.6"/>
<path d="M896.4,863.9 L896.4,862.2 L896.5,860.5 L896.7,858.9 L896.9,857.3 L897.2,855.7 L897.5,854.2 L897.9,852.7 L898.3,851.3 L898.8,850.0 L899.3,848.8 L899.9,847.6 L900.5,846.6 L901.2,845.7 L901.9,844.8 L902.6,844.1 L903.3,843.5 L904.1,843.1 L904.8,842.8 L905.6,842.6 L906.4,842.5 L906.9,842.6 L907.4,842.8 L907.9,843.1 L908.4,843.5 L908.8,844.1 L909.3,844.8 L909.8,845.6 L910.3,846.5"/>
<path d="M912.6,859.8 L912.6,858.2 L912.7,856.5 L912.9,854.9 L913.1,853.4 L913.3,851.8 L913.6,850.4 L914.0,848.9 L914.4,847.6 L914.9,846.3 L915.4,845.1 L916.0,844.0 L916.5,843.0 L917.2,842.1 L917.8,841.3 L918.5,840.6 L919.2,840.0 L919.9,839.6 L920.7,839.3 L921.4,839.1 L922.2,839.0 L922.6,839.1 L923.1,839.2 L923.6,839.6 L924.0,840.0 L924.5,840.6 L925.0,841.2 L925.4,842.1 L925.9,843.0"/>
<path d="M928.2,856.2 L928.2,854.6 L928.3,853.0 L928.5,851.4 L928.7,849.8 L929.0,848.3 L929.3,846.8 L929.7,845.4 L930.1,844.0 L930.6,842.8 L931.1,841.6 L931.7,840.5 L932.3,839.5 L932.9,838.6 L933.6,837.8 L934.3,837.1 L935.1,836.5 L935.8,836.1 L936.6,835.8 L937.4,835.6 L938.1,835.5 L938.6,835.6 L939.1,835.8 L939.6,836.1 L940.1,836.5 L940.6,837.1 L941.0,837.8 L941.5,838.6 L942.0,839.5"/>
<path d="M944.3,852.8 L944.3,851.1 L944.4,849.4 L944.6,847.7 L944.8,846.0 L945.0,844.4 L945.4,842.8 L945.7,841.3 L946.2,839.9 L946.6,838.5 L947.1,837.3 L947.7,836.1 L948.3,835.0 L948.9,834.0 L949.6,833.2 L950.3,832.5 L951.0,831.9 L951.8,831.4 L952.5,831.1 L953.3,830.9 L954.0,830.8 L954.5,830.9 L955.0,831.0 L955.4,831.4 L955.9,831.8 L956.4,832.4 L956.9,833.0 L957.3,833.9 L957.8,834.8"/>
<path d="M960.1,848.3 L960.1,846.6 L960.2,845.0 L960.4,843.4 L960.6,841.8 L960.8,840.2 L961.1,838.7 L961.5,837.3 L961.9,835.9 L962.3,834.7 L962.8,833.4 L963.4,832.3 L963.9,831.3 L964.5,830.4 L965.2,829.6 L965.8,828.9 L966.5,828.3 L967.2,827.9 L967.9,827.6 L968.7,827.4 L969.4,827.3 L969.8,827.4 L970.3,827.5 L970.7,827.9 L971.2,828.3 L971.6,828.9 L972.1,829.5 L972.5,830.4 L973.0,831.3"/>
<path d="M975.3,844.9 L975.3,843.2 L975.4,841.6 L975.6,840.0 L975.8,838.4 L976.0,836.8 L976.3,835.3 L976.7,833.9 L977.1,832.5 L977.6,831.2 L978.1,830.0 L978.7,828.9 L979.2,827.8 L979.9,826.9 L980.5,826.1 L981.2,825.4 L981.9,824.8 L982.6,824.4 L983.4,824.1 L984.1,823.9 L984.9,823.8 L985.3,823.9 L985.8,824.0 L986.3,824.4 L986.7,824.8 L987.2,825.4 L987.7,826.0 L988.1,826.9 L988.6,827.8"/>
<path d="M990.9,841.3 L990.9,839.7 L991.0,838.1 L991.2,836.4 L991.4,834.8 L991.6,833.3 L991.9,831.8 L992.3,830.4 L992.7,829.0 L993.1,827.7 L993.6,826.5 L994.2,825.3 L994.7,824.3 L995.3,823.4 L996.0,822.6 L996.6,821.9 L997.3,821.3 L998.0,820.9 L998.7,820.6 L999.5,820.4 L1000.2,820.3 L1000.6,820.4 L1001.1,820.5 L1001.5,820.9 L1002.0,821.3 L1002.4,821.9 L1002.9,822.5 L1003.3,823.4 L1003.8,824.3"/>
<path d="M1006.1,837.8 L1006.1,836.2 L1006.2,834.5 L1006.4,832.9 L1006.6,831.3 L1006.8,829.8 L1007.1,828.3 L1007.5,826.8 L1007.9,825.5 L1008.3,824.2 L1008.8,823.0 L1009.4,821.8 L1009.9,820.8 L1010.5,819.9 L1011.2,819.1 L1011.8,818.4 L1012.5,817.8 L1013.2,817.4 L1013.9,817.1 L1014.7,816.9 L1015.4,816.8 L1015.8,816.9 L1016.3,817.0 L1016.7,817.4 L1017.2,817.8 L1017.6,818.4 L1018.1,819.0 L1018.5,819.9 L1019.0,820.8"/>
<path d="M1021.3,834.3 L1021.3,832.5 L1021.4,830.8 L1021.6,829.1 L1021.7,827.4 L1022.0,825.8 L1022.3,824.2 L1022.6,822.7 L1023.0,821.3 L1023.5,819.9 L1024.0,818.7 L1024.5,817.5 L1025.0,816.4 L1025.6,815.5 L1026.3,814.6 L1026.9,813.9 L1027.6,813.3 L1028.3,812.8 L1029.0,812.5 L1029.7,812.3 L1030.4,812.2 L1030.8,812.3 L1031.3,812.5 L1031.7,812.8 L1032.1,813.2 L1032.6,813.8 L1033.0,814.5 L1033.5,815.3 L1033.9,816.2"/>
<path d="M1036.2,829.9 L1036.2,828.3 L1036.3,826.6 L1036.4,825.0 L1036.6,823.4 L1036.9,821.8 L1037.2,820.3 L1037.5,818.8 L1037.9,817.4 L1038.3,816.1 L1038.8,814.9 L1039.3,813.8 L1039.8,812.8 L1040.4,811.8 L1041.0,811.0 L1041.6,810.3 L1042.3,809.7 L1042.9,809.3 L1043.6,809.0 L1044.3,808.8 L1045.0,808.7 L1045.4,808.8 L1045.8,809.0 L1046.3,809.3 L1046.7,809.7 L1047.1,810.3 L1047.5,811.0 L1048.0,811.8 L1048.4,812.7"/>
<path d="M1050.7,826.4 L1050.7,824.7 L1050.8,823.1 L1051.0,821.4 L1051.1,819.8 L1051.4,818.3 L1051.7,816.8 L1052.0,815.3 L1052.4,813.9 L1052.9,812.6 L1053.4,811.4 L1053.9,810.3 L1054.4,809.2 L1055.0,808.3 L1055.7,807.5 L1056.3,806.8 L1057.0,806.2 L1057.7,805.8 L1058.4,805.5 L1059.1,805.3 L1059.8,805.2 L1060.2,805.3 L1060.7,805.5 L1061.1,805.8 L1061.5,806.2 L1062.0,806.8 L1062.4,807.5 L1062.9,808.3 L1063.3,809.2"/>
<path d="M1065.6,822.8 L1065.6,821.2 L1065.7,819.5 L1065.8,817.9 L1066.0,816.3 L1066.3,814.7 L1066.6,813.2 L1066.9,811.8 L1067.3,810.4 L1067.7,809.1 L1068.2,807.9 L1068.7,806.8 L1069.3,805.7 L1069.9,804.8 L1070.5,804.0 L1071.1,803.3 L1071.8,802.7 L1072.4,802.3 L1073.1,802.0 L1073.8,801.8 L1074.5,801.7 L1075.0,801.8 L1075.4,802.0 L1075.8,802.3 L1076.3,802.7 L1076.7,803.3 L1077.1,804.0 L1077.6,804.8 L1078.0,805.7"/>
<path d="M1080.3,819.3 L1080.3,817.7 L1080.4,816.1 L1080.5,814.6 L1080.7,813.0 L1080.9,811.5 L1081.2,810.1 L1081.5,808.7 L1081.9,807.4 L1082.3,806.1 L1082.7,804.9 L1083.2,803.9 L1083.7,802.9 L1084.3,802.0 L1084.8,801.2 L1085.4,800.5 L1086.0,800.0 L1086.6,799.6 L1087.3,799.2 L1087.9,799.1 L1088.6,799.0 L1089.0,799.1 L1089.4,799.2 L1089.8,799.6 L1090.2,800.0 L1090.6,800.6 L1091.0,801.2 L1091.4,802.1 L1091.8,803.0"/>
<path d="M1094.1,816.4 L1094.1,814.8 L1094.2,813.1 L1094.4,811.5 L1094.5,810.0 L1094.8,808.4 L1095.1,806.9 L1095.4,805.5 L1095.8,804.1 L1096.3,802.9 L1096.8,801.7 L1097.3,800.5 L1097.8,799.5 L1098.4,798.6 L1099.1,797.8 L1099.7,797.1 L1100.4,796.6 L1101.1,796.1 L1101.8,795.8 L1102.5,795.6 L1103.2,795.6 L1103.6,795.6 L1104.1,795.8 L1104.5,796.1 L1104.9,796.6 L1105.4,797.1 L1105.8,797.8 L1106.3,798.6 L1106.7,799.6"/>
<path d="M1109.0,812.8 L1109.0,811.2 L1109.1,809.6 L1109.2,808.0 L1109.4,806.4 L1109.6,804.9 L1109.9,803.4 L1110.3,802.0 L1110.6,800.6 L1111.0,799.4 L1111.5,798.2 L1112.0,797.1 L1112.5,796.1 L1113.1,795.2 L1113.6,794.4 L1114.2,793.7 L1114.9,793.1 L1115.5,792.7 L1116.2,792.4 L1116.8,792.2 L1117.5,792.1 L1117.9,792.2 L1118.3,792.4 L1118.7,792.7 L1119.1,793.1 L1119.6,793.7 L1120.0,794.4 L1120.4,795.2 L1120.8,796.1"/>
<path d="M1123.1,809.2 L1123.1,807.6 L1123.2,806.0 L1123.3,804.4 L1123.5,802.9 L1123.8,801.4 L1124.0,799.9 L1124.4,798.5 L1124.7,797.1 L1125.2,795.9 L1125.6,794.7 L1126.1,793.6 L1126.6,792.6 L1127.2,791.7 L1127.8,790.9 L1128.4,790.2 L1129.0,789.7 L1129.7,789.2 L1130.3,788.9 L1131.0,788.7 L1131.7,788.7 L1132.1,788.7 L1132.5,788.9 L1132.9,789.2 L1133.3,789.7 L1133.8,790.2 L1134.2,790.9 L1134.6,791.7 L1135.0,792.7"/>
<path d="M1137.3,805.7 L1137.3,804.1 L1137.4,802.5 L1137.5,800.9 L1137.7,799.4 L1137.9,797.8 L1138.2,796.4 L1138.5,795.0 L1138.9,793.7 L1139.3,792.4 L1139.7,791.2 L1140.2,790.1 L1140.7,789.1 L1141.3,788.2 L1141.8,787.4 L1142.4,786.8 L1143.0,786.2 L1143.6,785.8 L1144.3,785.5 L1144.9,785.3 L1145.6,785.2 L1146.0,785.3 L1146.4,785.5 L1146.8,785.8 L1147.2,786.2 L1147.6,786.8 L1148.0,787.5 L1148.4,788.3 L1148.8,789.2"/>
<path d="M1151.1,802.1 L1151.1,800.5 L1151.2,798.9 L1151.3,797.4 L1151.5,795.8 L1151.7,794.3 L1152.0,792.9 L1152.3,791.5 L1152.7,790.2 L1153.1,788.9 L1153.5,787.7 L1154.0,786.6 L1154.5,785.7 L1155.1,784.8 L1155.7,784.0 L1156.3,783.3 L1156.9,782.8 L1157.5,782.3 L1158.1,782.0 L1158.8,781.8 L1159.5,781.8 L1159.9,781.8 L1160.3,782.0 L1160.7,782.3 L1161.1,782.8 L1161.5,783.3 L1161.9,784.0 L1162.3,784.8 L1162.7,785.8"/>
<path d="M1165.0,798.6 L1165.0,797.0 L1165.1,795.4 L1165.2,793.8 L1165.4,792.3 L1165.6,790.8 L1165.9,789.4 L1166.2,788.0 L1166.5,786.7 L1166.9,785.4 L1167.3,784.2 L1167.8,783.2 L1168.3,782.2 L1168.8,781.3 L1169.3,780.5 L1169.9,779.9 L1170.5,779.3 L1171.1,778.9 L1171.7,778.6 L1172.3,778.4 L1172.9,778.3 L1173.3,778.4 L1173.7,778.6 L1174.1,778.9 L1174.5,779.3 L1174.8,779.9 L1175.2,780.6 L1175.6,781.4 L1176.0,782.3"/>
<path d="M1178.3,795.2 L1178.3,793.6 L1178.4,792.0 L1178.5,790.4 L1178.7,788.9 L1178.9,787.4 L1179.2,786.0 L1179.5,784.6 L1179.9,783.2 L1180.2,782.0 L1180.7,780.8 L1181.2,779.7 L1181.7,778.8 L1182.2,777.9 L1182.7,777.1 L1183.3,776.4 L1183.9,775.9 L1184.5,775.4 L1185.2,775.1 L1185.8,774.9 L1186.4,774.9 L1186.8,774.9 L1187.2,775.1 L1187.6,775.4 L1188.0,775.9 L1188.4,776.4 L1188.8,777.1 L1189.2,777.9 L1189.6,778.9"/>
<path d="M1191.9,791.6 L1191.9,790.0 L1192.0,788.5 L1192.1,786.9 L1192.3,785.4 L1192.5,783.9 L1192.8,782.5 L1193.1,781.1 L1193.4,779.8 L1193.8,778.5 L1194.2,777.3 L1194.7,776.3 L1195.2,775.3 L1195.7,774.4 L1196.3,773.6 L1196.8,773.0 L1197.4,772.4 L1198.0,772.0 L1198.6,771.7 L1199.3,771.5 L1199.9,771.4 L1200.3,771.5 L1200.7,771.7 L1201.1,772.0 L1201.4,772.4 L1201.8,773.0 L1202.2,773.7 L1202.6,774.5 L1203.0,775.4"/>
<path d="M1205.3,788.1 L1205.3,786.5 L1205.4,784.9 L1205.5,783.4 L1205.7,781.9 L1205.9,780.4 L1206.2,778.9 L1206.5,777.6 L1206.8,776.3 L1207.2,775.0 L1207.6,773.9 L1208.1,772.8 L1208.6,771.8 L1209.1,770.9 L1209.6,770.2 L1210.2,769.5 L1210.8,769.0 L1211.4,768.5 L1212.0,768.2 L1212.6,768.0 L1213.2,768.0 L1213.6,768.0 L1214.0,768.2 L1214.4,768.5 L1214.8,769.0 L1215.1,769.5 L1215.5,770.2 L1215.9,771.0 L1216.3,772.0"/>
<path d="M1218.6,784.3 L1218.6,782.8 L1218.7,781.2 L1218.8,779.7 L1219.0,778.2 L1219.2,776.7 L1219.4,775.3 L1219.7,774.0 L1220.1,772.7 L1220.5,771.5 L1220.9,770.3 L1221.3,769.3 L1221.8,768.3 L1222.3,767.5 L1222.8,766.7 L1223.4,766.0 L1224.0,765.5 L1224.6,765.1 L1225.2,764.8 L1225.8,764.6 L1226.4,764.5 L1226.8,764.6 L1227.1,764.8 L1227.5,765.1 L1227.9,765.5 L1228.3,766.1 L1228.6,766.8 L1229.0,767.6 L1229.4,768.5"/>
<path d="M1231.7,780.8 L1231.7,779.2 L1231.8,777.7 L1231.9,776.2 L1232.1,774.7 L1232.3,773.2 L1232.5,771.8 L1232.8,770.5 L1233.1,769.2 L1233.5,768.0 L1233.9,766.9 L1234.4,765.8 L1234.8,764.8 L1235.3,764.0 L1235.8,763.2 L1236.4,762.6 L1236.9,762.1 L1237.5,761.6 L1238.1,761.3 L1238.7,761.2 L1239.3,761.1 L1239.6,761.2 L1240.0,761.3 L1240.4,761.7 L1240.7,762.1 L1241.1,762.7 L1241.5,763.3 L1241.8,764.2 L1242.2,765.1"/>
<path d="M1244.5,777.2 L1244.5,775.7 L1244.6,774.1 L1244.7,772.6 L1244.9,771.2 L1245.1,769.7 L1245.3,768.3 L1245.6,767.0 L1245.9,765.7 L1246.3,764.5 L1246.7,763.4 L1247.2,762.3 L1247.6,761.4 L1248.1,760.5 L1248.6,759.8 L1249.2,759.1 L1249.7,758.6 L1250.3,758.2 L1250.9,757.9 L1251.5,757.7 L1252.1,757.6 L1252.4,757.7 L1252.8,757.9 L1253.2,758.2 L1253.5,758.6 L1253.9,759.2 L1254.3,759.9 L1254.6,760.7 L1255.0,761.6"/>
<path d="M1257.3,773.6 L1257.3,772.1 L1257.4,770.6 L1257.5,769.1 L1257.7,767.6 L1257.9,766.2 L1258.1,764.8 L1258.4,763.5 L1258.8,762.2 L1259.2,761.0 L1259.6,759.9 L1260.0,758.9 L1260.5,757.9 L1261.0,757.1 L1261.5,756.3 L1262.1,755.7 L1262.7,755.2 L1263.3,754.7 L1263.9,754.4 L1264.5,754.3 L1265.1,754.2 L1265.5,754.3 L1265.8,754.5 L1266.2,754.8 L1266.6,755.2 L1267.0,755.8 L1267.3,756.5 L1267.7,757.3 L1268.1,758.2"/>
<path d="M1270.4,770.0 L1270.4,768.5 L1270.5,767.0 L1270.6,765.6 L1270.8,764.2 L1271.0,762.8 L1271.2,761.4 L1271.5,760.1 L1271.8,758.9 L1272.1,757.7 L1272.5,756.7 L1272.9,755.7 L1273.4,754.7 L1273.9,753.9 L1274.4,753.2 L1274.9,752.6 L1275.4,752.1 L1276.0,751.7 L1276.5,751.4 L1277.1,751.2 L1277.7,751.2 L1278.0,751.2 L1278.4,751.4 L1278.7,751.7 L1279.1,752.2 L1279.4,752.7 L1279.8,753.4 L1280.1,754.2 L1280.5,755.2"/>
<path d="M1282.8,766.7 L1282.8,765.2 L1282.9,763.8 L1283.0,762.3 L1283.2,760.9 L1283.4,759.6 L1283.6,758.2 L1283.9,757.0 L1284.2,755.8 L1284.6,754.6 L1285.0,753.5 L1285.4,752.5 L1285.9,751.6 L1286.3,750.8 L1286.8,750.1 L1287.4,749.5 L1287.9,749.0 L1288.5,748.6 L1289.1,748.3 L1289.6,748.2 L1290.2,748.1 L1290.6,748.2 L1290.9,748.4 L1291.3,748.7 L1291.7,749.1 L1292.0,749.7 L1292.4,750.4 L1292.7,751.2 L1293.1,752.1"/>
<path d="M1295.4,763.4 L1295.4,762.0 L1295.5,760.6 L1295.6,759.1 L1295.7,757.7 L1295.9,756.4 L1296.2,755.1 L1296.4,753.8 L1296.7,752.6 L1297.1,751.5 L1297.4,750.4 L1297.8,749.5 L1298.3,748.6 L1298.7,747.8 L1299.2,747.1 L1299.7,746.4 L1300.2,745.9 L1300.8,745.6 L1301.3,745.3 L1301.8,745.1 L1302.4,745.1 L1302.7,745.1 L1303.1,745.3 L1303.4,745.6 L1303.7,746.1 L1304.1,746.6 L1304.4,747.3 L1304.8,748.1 L1305.1,749.1"/>
<path d="M1307.4,760.2 L1307.4,758.8 L1307.5,757.3 L1307.6,755.9 L1307.8,754.6 L1307.9,753.2 L1308.2,751.9 L1308.5,750.7 L1308.8,749.5 L1309.1,748.4 L1309.5,747.3 L1309.9,746.4 L1310.4,745.5 L1310.8,744.7 L1311.3,744.0 L1311.8,743.4 L1312.4,742.9 L1312.9,742.5 L1313.5,742.2 L1314.0,742.1 L1314.6,742.0 L1315.0,742.1 L1315.3,742.2 L1315.7,742.6 L1316.0,743.0 L1316.4,743.6 L1316.7,744.2 L1317.1,745.1 L1317.4,746.0"/>
<path d="M1319.7,756.8 L1319.7,755.4 L1319.8,754.0 L1319.9,752.6 L1320.1,751.3 L1320.3,749.9 L1320.5,748.7 L1320.8,747.5 L1321.1,746.3 L1321.5,745.2 L1321.9,744.2 L1322.3,743.2 L1322.8,742.4 L1323.2,741.6 L1323.7,740.9 L1324.3,740.3 L1324.8,739.8 L1325.4,739.4 L1326.0,739.2 L1326.5,739.0 L1327.1,739.0 L1327.5,739.0 L1327.8,739.2 L1328.2,739.5 L1328.6,740.0 L1328.9,740.5 L1329.3,741.2 L1329.6,742.0 L1330.0,743.0"/>
<path d="M1332.3,753.5 L1332.3,752.1 L1332.4,750.8 L1332.5,749.4 L1332.6,748.1 L1332.8,746.8 L1333.1,745.5 L1333.3,744.3 L1333.6,743.2 L1334.0,742.1 L1334.3,741.1 L1334.7,740.1 L1335.2,739.3 L1335.6,738.5 L1336.1,737.8 L1336.6,737.2 L1337.1,736.8 L1337.7,736.4 L1338.2,736.1 L1338.7,736.0 L1339.3,735.9 L1339.6,736.0 L1340.0,736.1 L1340.3,736.5 L1340.6,736.9 L1341.0,737.5 L1341.3,738.1 L1341.7,739.0 L1342.0,739.9"/>
<path d="M1344.3,750.3 L1344.3,748.9 L1344.4,747.6 L1344.5,746.2 L1344.6,744.9 L1344.8,743.6 L1345.1,742.4 L1345.3,741.2 L1345.6,740.0 L1346.0,739.0 L1346.3,738.0 L1346.7,737.0 L1347.2,736.2 L1347.6,735.4 L1348.1,734.7 L1348.6,734.2 L1349.1,733.7 L1349.7,733.3 L1350.2,733.1 L1350.7,732.9 L1351.3,732.9 L1351.6,732.9 L1352.0,733.1 L1352.3,733.4 L1352.6,733.9 L1353.0,734.4 L1353.3,735.1 L1353.7,735.9 L1354.0,736.9"/>
<path d="M1356.3,746.8 L1356.3,745.5 L1356.4,744.2 L1356.5,742.9 L1356.6,741.6 L1356.8,740.3 L1357.0,739.1 L1357.3,737.9 L1357.6,736.8 L1357.9,735.8 L1358.2,734.8 L1358.6,733.9 L1359.0,733.1 L1359.4,732.3 L1359.9,731.7 L1360.3,731.1 L1360.8,730.6 L1361.3,730.3 L1361.8,730.0 L1362.3,729.9 L1362.9,729.8 L1363.2,729.9 L1363.5,730.1 L1363.8,730.4 L1364.1,730.8 L1364.4,731.4 L1364.8,732.1 L1365.1,732.9 L1365.4,733.8"/>
<path d="M1367.7,743.6 L1367.7,742.3 L1367.8,741.0 L1367.9,739.7 L1368.0,738.4 L1368.2,737.2 L1368.4,736.0 L1368.7,734.8 L1369.0,733.7 L1369.3,732.7 L1369.7,731.7 L1370.1,730.8 L1370.5,730.0 L1370.9,729.2 L1371.4,728.6 L1371.9,728.0 L1372.4,727.6 L1372.9,727.2 L1373.4,727.0 L1373.9,726.8 L1374.5,726.8 L1374.8,726.8 L1375.1,727.0 L1375.5,727.3 L1375.8,727.8 L1376.1,728.3 L1376.4,729.0 L1376.8,729.8 L1377.1,730.8"/>
<path d="M1379.4,740.0 L1379.4,738.7 L1379.5,737.4 L1379.6,736.2 L1379.7,734.9 L1379.9,733.7 L1380.2,732.6 L1380.4,731.5 L1380.7,730.4 L1381.1,729.4 L1381.4,728.5 L1381.8,727.6 L1382.3,726.8 L1382.7,726.1 L1383.2,725.5 L1383.7,724.9 L1384.2,724.5 L1384.8,724.1 L1385.3,723.9 L1385.8,723.8 L1386.4,723.7 L1386.7,723.8 L1387.1,724.0 L1387.4,724.3 L1387.7,724.7 L1388.1,725.3 L1388.4,726.0 L1388.8,726.8 L1389.1,727.7"/>
<path d="M1391.4,736.5 L1391.4,735.3 L1391.5,734.1 L1391.6,732.8 L1391.7,731.6 L1391.9,730.5 L1392.1,729.3 L1392.3,728.2 L1392.6,727.2 L1392.9,726.2 L1393.2,725.3 L1393.5,724.5 L1393.9,723.7 L1394.3,723.0 L1394.7,722.4 L1395.2,721.9 L1395.6,721.4 L1396.1,721.1 L1396.6,720.8 L1397.0,720.7 L1397.5,720.6 L1397.8,720.7 L1398.1,720.9 L1398.4,721.2 L1398.7,721.6 L1399.0,722.2 L1399.3,722.9 L1399.6,723.7 L1399.9,724.6"/>
<path d="M1402.2,733.1 L1402.2,731.9 L1402.3,730.7 L1402.4,729.5 L1402.5,728.3 L1402.7,727.2 L1403.0,726.1 L1403.2,725.0 L1403.5,724.0 L1403.9,723.0 L1404.2,722.1 L1404.6,721.3 L1405.1,720.6 L1405.5,719.9 L1406.0,719.3 L1406.5,718.8 L1407.0,718.4 L1407.6,718.0 L1408.1,717.8 L1408.6,717.6 L1409.2,717.6 L1409.5,717.7 L1409.9,717.9 L1410.2,718.2 L1410.5,718.6 L1410.9,719.2 L1411.2,719.9 L1411.6,720.7 L1411.9,721.6"/>
<path d="M1414.2,729.7 L1414.2,728.5 L1414.3,727.3 L1414.4,726.1 L1414.5,725.0 L1414.7,723.9 L1414.9,722.8 L1415.1,721.8 L1415.4,720.8 L1415.7,719.9 L1416.1,719.0 L1416.4,718.2 L1416.8,717.4 L1417.2,716.8 L1417.7,716.2 L1418.1,715.7 L1418.6,715.3 L1419.1,715.0 L1419.5,714.7 L1420.0,714.6 L1420.5,714.5 L1420.8,714.6 L1421.2,714.8 L1421.5,715.1 L1421.8,715.5 L1422.1,716.1 L1422.4,716.8 L1422.7,717.6 L1423.0,718.5"/>
<path d="M1425.3,726.2 L1425.3,725.1 L1425.4,723.9 L1425.5,722.8 L1425.6,721.7 L1425.8,720.6 L1426.0,719.6 L1426.3,718.5 L1426.5,717.6 L1426.9,716.7 L1427.2,715.8 L1427.6,715.0 L1428.0,714.3 L1428.4,713.7 L1428.8,713.1 L1429.3,712.6 L1429.8,712.2 L1430.3,711.9 L1430.8,711.7 L1431.3,711.5 L1431.8,711.5 L1432.1,711.6 L1432.4,711.8 L1432.7,712.1 L1433.0,712.5 L1433.4,713.1 L1433.7,713.8 L1434.0,714.6 L1434.3,715.5"/>
<path d="M1436.6,722.6 L1436.6,721.5 L1436.7,720.3 L1436.8,719.2 L1436.9,718.0 L1437.1,717.0 L1437.3,715.9 L1437.5,714.9 L1437.8,713.9 L1438.1,713.0 L1438.4,712.2 L1438.7,711.4 L1439.1,710.7 L1439.5,710.0 L1439.9,709.4 L1440.4,709.0 L1440.8,708.6 L1441.3,708.2 L1441.8,708.0 L1442.2,707.9 L1442.7,707.8 L1443.0,707.9 L1443.3,708.1 L1443.6,708.4 L1443.9,708.8 L1444.2,709.4 L1444.5,710.1 L1444.8,710.9 L1445.1,711.8"/>
<path d="M1447.4,718.8 L1447.4,717.6 L1447.5,716.5 L1447.6,715.4 L1447.7,714.3 L1447.9,713.2 L1448.1,712.1 L1448.3,711.1 L1448.6,710.2 L1448.9,709.3 L1449.3,708.4 L1449.6,707.7 L1450.0,707.0 L1450.5,706.3 L1450.9,705.8 L1451.4,705.3 L1451.8,704.9 L1452.3,704.6 L1452.8,704.3 L1453.3,704.2 L1453.8,704.2 L1454.1,704.2 L1454.4,704.4 L1454.7,704.7 L1455.1,705.2 L1455.4,705.7 L1455.7,706.4 L1456.0,707.2 L1456.3,708.2"/>
<path d="M1458.6,714.7 L1458.6,713.6 L1458.7,712.5 L1458.8,711.4 L1458.9,710.3 L1459.1,709.3 L1459.3,708.2 L1459.5,707.3 L1459.8,706.3 L1460.1,705.5 L1460.5,704.7 L1460.8,703.9 L1461.2,703.2 L1461.7,702.6 L1462.1,702.0 L1462.6,701.6 L1463.0,701.2 L1463.5,700.9 L1464.0,700.7 L1464.5,700.5 L1465.0,700.5 L1465.3,700.6 L1465.6,700.8 L1465.9,701.1 L1466.3,701.5 L1466.6,702.1 L1466.9,702.8 L1467.2,703.6 L1467.5,704.5"/>
<path d="M1469.8,710.2 L1469.8,709.0 L1469.9,707.7 L1470.0,706.5 L1470.1,705.3 L1470.3,704.2 L1470.5,703.1 L1470.8,702.0 L1471.1,701.0 L1471.4,700.0 L1471.7,699.1 L1472.1,698.3 L1472.5,697.5 L1473.0,696.8 L1473.4,696.2 L1473.9,695.7 L1474.4,695.3 L1474.9,694.9 L1475.4,694.7 L1475.9,694.5 L1476.4,694.5 L1476.7,694.6 L1477.1,694.8 L1477.4,695.1 L1477.7,695.5 L1478.0,696.1 L1478.4,696.8 L1478.7,697.6 L1479.0,698.5"/>
<path d="M1481.3,703.8 L1481.3,702.6 L1481.4,701.4 L1481.5,700.2 L1481.6,699.1 L1481.8,697.9 L1482.0,696.9 L1482.3,695.8 L1482.6,694.8 L1482.9,693.9 L1483.2,693.0 L1483.6,692.2 L1484.0,691.4 L1484.5,690.8 L1484.9,690.2 L1485.4,689.7 L1485.9,689.2 L1486.4,688.9 L1486.9,688.7 L1487.4,688.5 L1487.9,688.5 L1488.2,688.6 L1488.6,688.8 L1488.9,689.1 L1489.2,689.5 L1489.5,690.1 L1489.9,690.8 L1490.2,691.6 L1490.5,692.5"/>
<path d="M1492.8,695.4 L1492.8,694.4 L1492.9,693.5 L1493.0,692.6 L1493.1,691.6 L1493.3,690.7 L1493.5,689.9 L1493.7,689.0 L1494.0,688.2 L1494.4,687.4 L1494.7,686.6 L1495.1,685.9 L1495.5,685.2 L1495.9,684.6 L1496.4,684.0 L1496.9,683.4 L1497.4,682.9 L1497.9,682.5 L1498.5,682.1 L1499.0,681.8 L1499.6,681.5 L1500.2,681.3 L1500.8,681.1 L1501.4,681.0 L1502.0,681.0"/>
<path d="M1502.5,681.0 L1503.8,679.8 L1505.1,678.6 L1506.4,677.5 L1507.7,676.3 L1509.1,675.1 L1510.4,673.9 L1511.7,672.7 L1513.0,671.3 L1514.3,669.4"/>
<path d="M1514.3,669.4 L1515.7,667.5 L1517.0,665.6 L1518.4,663.6 L1519.7,661.7 L1521.1,659.7 L1522.4,657.8 L1523.8,655.9 L1525.1,653.9 L1526.5,652.0"/>
<path d="M1526.5,652.0 L1527.9,649.7 L1529.2,647.4 L1530.6,645.2 L1532.0,642.9 L1533.3,640.6 L1534.7,638.3 L1536.1,636.1 L1537.4,633.8 L1538.8,631.3"/>
<path d="M1538.8,631.3 L1540.2,628.1 L1541.6,625.0 L1543.0,621.8 L1544.4,618.6 L1545.9,615.4 L1547.3,612.2 L1548.7,609.1 L1550.1,605.4 L1551.5,601.8"/>
<path d="M1551.5,601.8 L1552.2,600.1 L1552.8,598.4 L1553.5,596.7 L1554.2,594.9 L1554.8,593.2 L1555.5,591.5 L1556.2,588.4 L1556.8,584.7 L1557.5,581.0"/>
</g>
</g>
<g fill="#000">
<circle cx="289.8" cy="1056.2" r="2.7"/>
<circle cx="307.4" cy="1053.3" r="2.7"/>
<circle cx="324.9" cy="1049.8" r="2.7"/>
<circle cx="342.4" cy="1046.8" r="2.7"/>
<circle cx="360.8" cy="1044.5" r="2.7"/>
<circle cx="379.0" cy="1042.2" r="2.7"/>
<circle cx="397.3" cy="1039.3" r="2.7"/>
<circle cx="415.8" cy="1036.4" r="2.7"/>
<circle cx="434.3" cy="1034.0" r="2.7"/>
<circle cx="453.0" cy="1031.0" r="2.7"/>
<circle cx="471.2" cy="1029.0" r="2.7"/>
<circle cx="490.2" cy="1025.7" r="2.7"/>
<circle cx="508.6" cy="1024.0" r="2.7"/>
<circle cx="527.4" cy="1020.7" r="2.7"/>
<circle cx="546.3" cy="1017.5" r="2.7"/>
<circle cx="564.8" cy="1015.5" r="2.7"/>
<circle cx="583.2" cy="1012.4" r="2.7"/>
<circle cx="601.5" cy="1011.1" r="2.7"/>
<circle cx="619.5" cy="1008.7" r="2.7"/>
<circle cx="637.6" cy="1006.0" r="2.7"/>
<circle cx="656.0" cy="1005.0" r="2.7"/>
<circle cx="674.0" cy="1002.3" r="2.7"/>
<circle cx="691.7" cy="999.6" r="2.7"/>
<circle cx="709.7" cy="996.8" r="2.7"/>
<circle cx="727.3" cy="995.0" r="2.7"/>
<circle cx="744.6" cy="992.0" r="2.7"/>
<circle cx="762.0" cy="991.0" r="2.7"/>
<circle cx="779.4" cy="989.0" r="2.7"/>
<circle cx="796.6" cy="986.0" r="2.7"/>
<circle cx="813.4" cy="984.0" r="2.7"/>
<circle cx="830.4" cy="981.0" r="2.7"/>
<circle cx="846.6" cy="979.0" r="2.7"/>
<circle cx="863.4" cy="976.0" r="2.7"/>
<circle cx="879.6" cy="974.0" r="2.7"/>
<circle cx="895.6" cy="971.0" r="2.7"/>
<circle cx="911.8" cy="967.5" r="2.7"/>
<circle cx="927.4" cy="963.8" r="2.7"/>
<circle cx="943.5" cy="961.5" r="2.7"/>
<circle cx="959.3" cy="958.0" r="2.7"/>
<circle cx="974.5" cy="955.7" r="2.7"/>
<circle cx="990.1" cy="952.2" r="2.7"/>
<circle cx="1005.3" cy="948.7" r="2.7"/>
<circle cx="1020.5" cy="945.2" r="2.7"/>
<circle cx="1035.4" cy="942.8" r="2.7"/>
<circle cx="1049.9" cy="939.3" r="2.7"/>
<circle cx="1064.8" cy="935.8" r="2.7"/>
<circle cx="1079.5" cy="932.3" r="2.7"/>
<circle cx="1093.3" cy="928.5" r="2.7"/>
<circle cx="1108.2" cy="924.3" r="2.7"/>
<circle cx="1122.3" cy="920.3" r="2.7"/>
<circle cx="1136.5" cy="916.3" r="2.7"/>
<circle cx="1150.3" cy="912.3" r="2.7"/>
<circle cx="1164.2" cy="908.3" r="2.7"/>
<circle cx="1177.5" cy="905.7" r="2.7"/>
<circle cx="1191.1" cy="901.7" r="2.7"/>
<circle cx="1204.5" cy="897.7" r="2.7"/>
<circle cx="1217.8" cy="892.3" r="2.7"/>
<circle cx="1230.9" cy="888.3" r="2.7"/>
<circle cx="1243.7" cy="884.3" r="2.7"/>
<circle cx="1256.5" cy="880.3" r="2.7"/>
<circle cx="1269.6" cy="875.5" r="2.7"/>
<circle cx="1282.0" cy="870.5" r="2.7"/>
<circle cx="1294.6" cy="866.0" r="2.7"/>
<circle cx="1306.6" cy="861.5" r="2.7"/>
<circle cx="1318.9" cy="855.5" r="2.7"/>
<circle cx="1331.5" cy="851.0" r="2.7"/>
<circle cx="1343.5" cy="846.5" r="2.7"/>
<circle cx="1355.5" cy="840.5" r="2.7"/>
<circle cx="1366.9" cy="836.0" r="2.7"/>
<circle cx="1378.6" cy="828.5" r="2.7"/>
<circle cx="1390.6" cy="822.5" r="2.7"/>
<circle cx="1401.4" cy="816.5" r="2.7"/>
<circle cx="1413.4" cy="810.5" r="2.7"/>
<circle cx="1424.5" cy="804.5" r="2.7"/>
<circle cx="1435.8" cy="797.0" r="2.7"/>
<circle cx="1446.6" cy="792.0" r="2.7"/>
<circle cx="1457.8" cy="785.0" r="2.7"/>
<circle cx="1469.0" cy="775.0" r="2.7"/>
<circle cx="1480.5" cy="766.0" r="2.7"/>
<circle cx="1492.0" cy="757.0" r="2.7"/>
<circle cx="1503.5" cy="746.0" r="2.7"/>
<circle cx="1515.3" cy="731.0" r="2.7"/>
<circle cx="1527.5" cy="715.0" r="2.7"/>
<circle cx="1539.8" cy="688.0" r="2.7"/>
<circle cx="1552.5" cy="656.0" r="2.7"/>
<circle cx="323.9" cy="1011.3" r="2.3"/>
<circle cx="341.4" cy="1003.3" r="2.3"/>
<circle cx="359.8" cy="990.3" r="2.3"/>
<circle cx="378.0" cy="979.3" r="2.3"/>
<circle cx="396.3" cy="969.3" r="2.3"/>
<circle cx="414.8" cy="959.3" r="2.3"/>
<circle cx="433.3" cy="948.8" r="2.3"/>
<circle cx="452.0" cy="940.8" r="2.3"/>
<circle cx="470.2" cy="932.3" r="2.3"/>
<circle cx="489.2" cy="925.6" r="2.3"/>
<circle cx="507.6" cy="918.1" r="2.3"/>
<circle cx="526.4" cy="912.3" r="2.3"/>
<circle cx="545.3" cy="907.3" r="2.3"/>
<circle cx="563.8" cy="901.3" r="2.3"/>
<circle cx="582.2" cy="896.5" r="2.3"/>
<circle cx="600.5" cy="892.0" r="2.3"/>
<circle cx="618.5" cy="887.3" r="2.3"/>
<circle cx="636.6" cy="882.3" r="2.3"/>
<circle cx="655.0" cy="877.8" r="2.3"/>
<circle cx="673.0" cy="874.2" r="2.3"/>
<circle cx="690.7" cy="869.6" r="2.3"/>
<circle cx="708.7" cy="865.7" r="2.3"/>
<circle cx="726.3" cy="860.8" r="2.3"/>
<circle cx="743.6" cy="857.3" r="2.3"/>
<circle cx="761.0" cy="853.3" r="2.3"/>
<circle cx="778.4" cy="848.3" r="2.3"/>
<circle cx="795.6" cy="844.3" r="2.3"/>
<circle cx="812.4" cy="841.3" r="2.3"/>
<circle cx="829.4" cy="836.3" r="2.3"/>
<circle cx="845.6" cy="833.3" r="2.3"/>
<circle cx="862.4" cy="828.3" r="2.3"/>
<circle cx="878.6" cy="824.3" r="2.3"/>
<circle cx="894.6" cy="821.3" r="2.3"/>
<circle cx="910.8" cy="817.8" r="2.3"/>
<circle cx="926.4" cy="813.8" r="2.3"/>
<circle cx="942.5" cy="809.6" r="2.3"/>
<circle cx="958.3" cy="805.0" r="2.3"/>
<circle cx="973.5" cy="800.3" r="2.3"/>
<circle cx="989.1" cy="796.8" r="2.3"/>
<circle cx="1004.3" cy="792.1" r="2.3"/>
<circle cx="1019.5" cy="788.6" r="2.3"/>
<circle cx="1034.4" cy="782.8" r="2.3"/>
<circle cx="1048.9" cy="777.3" r="2.3"/>
<circle cx="1063.8" cy="773.5" r="2.3"/>
<circle cx="1078.5" cy="768.8" r="2.3"/>
<circle cx="1092.3" cy="763.8" r="2.3"/>
<circle cx="1107.2" cy="758.3" r="2.3"/>
<circle cx="1121.3" cy="753.0" r="2.3"/>
<circle cx="1135.5" cy="746.3" r="2.3"/>
<circle cx="1149.3" cy="741.0" r="2.3"/>
<circle cx="1163.2" cy="735.6" r="2.3"/>
<circle cx="1176.5" cy="729.0" r="2.3"/>
<circle cx="1190.1" cy="722.3" r="2.3"/>
<circle cx="1203.5" cy="717.0" r="2.3"/>
<circle cx="1216.8" cy="710.3" r="2.3"/>
<circle cx="1229.9" cy="703.6" r="2.3"/>
<circle cx="1242.7" cy="697.0" r="2.3"/>
<circle cx="1255.5" cy="690.3" r="2.3"/>
<circle cx="1268.6" cy="683.3" r="2.3"/>
<circle cx="1281.0" cy="677.3" r="2.3"/>
<circle cx="1293.6" cy="668.3" r="2.3"/>
<circle cx="1305.6" cy="660.8" r="2.3"/>
<circle cx="1317.9" cy="652.7" r="2.3"/>
<circle cx="1330.5" cy="644.3" r="2.3"/>
<circle cx="1342.5" cy="635.9" r="2.3"/>
<circle cx="1354.5" cy="626.3" r="2.3"/>
<circle cx="1365.9" cy="617.3" r="2.3"/>
<circle cx="1377.6" cy="606.8" r="2.3"/>
<circle cx="1389.6" cy="597.3" r="2.3"/>
<circle cx="1400.4" cy="585.8" r="2.3"/>
<circle cx="1412.4" cy="573.8" r="2.3"/>
<circle cx="1423.5" cy="562.3" r="2.3"/>
<circle cx="1434.8" cy="548.6" r="2.3"/>
<circle cx="1445.6" cy="532.1" r="2.3"/>
<circle cx="1456.8" cy="510.1" r="2.3"/>
<circle cx="1468.0" cy="492.6" r="2.3"/>
<circle cx="1479.5" cy="469.8" r="2.3"/>
<circle cx="1491.0" cy="448.8" r="2.3"/>
</g>
<rect x="225.5" y="144.5" width="1395" height="924" fill="none" stroke="#000" stroke-width="1.1"/>
<path d="M208,1063.30 H225.5" stroke="#000" stroke-width="5.6"/>
<path d="M214,1039.01 H225.5" stroke="#000" stroke-width="5.6"/>
<path d="M214,1014.71 H225.5" stroke="#000" stroke-width="5.6"/>
<path d="M214,990.42 H225.5" stroke="#000" stroke-width="5.6"/>
<path d="M214,966.12 H225.5" stroke="#000" stroke-width="5.6"/>
<path d="M208,941.83 H225.5" stroke="#000" stroke-width="5.6"/>
<path d="M214,917.54 H225.5" stroke="#000" stroke-width="5.6"/>
<path d="M214,893.24 H225.5" stroke="#000" stroke-width="5.6"/>
<path d="M214,868.95 H225.5" stroke="#000" stroke-width="5.6"/>
<path d="M214,844.65 H225.5" stroke="#000" stroke-width="5.6"/>
<path d="M208,820.36 H225.5" stroke="#000" stroke-width="5.6"/>
<path d="M214,796.07 H225.5" stroke="#000" stroke-width="5.6"/>
<path d="M214,771.77 H225.5" stroke="#000" stroke-width="5.6"/>
<path d="M214,747.48 H225.5" stroke="#000" stroke-width="5.6"/>
<path d="M214,723.18 H225.5" stroke="#000" stroke-width="5.6"/>
<path d="M208,698.89 H225.5" stroke="#000" stroke-width="5.6"/>
<path d="M214,674.60 H225.5" stroke="#000" stroke-width="5.6"/>
<path d="M214,650.30 H225.5" stroke="#000" stroke-width="5.6"/>
<path d="M214,626.01 H225.5" stroke="#000" stroke-width="5.6"/>
<path d="M214,601.71 H225.5" stroke="#000" stroke-width="5.6"/>
<path d="M208,577.42 H225.5" stroke="#000" stroke-width="5.6"/>
<path d="M214,553.13 H225.5" stroke="#000" stroke-width="5.6"/>
<path d="M214,528.83 H225.5" stroke="#000" stroke-width="5.6"/>
<path d="M214,504.54 H225.5" stroke="#000" stroke-width="5.6"/>
<path d="M214,480.24 H225.5" stroke="#000" stroke-width="5.6"/>
<path d="M208,455.95 H225.5" stroke="#000" stroke-width="5.6"/>
<path d="M214,431.66 H225.5" stroke="#000" stroke-width="5.6"/>
<path d="M214,407.36 H225.5" stroke="#000" stroke-width="5.6"/>
<path d="M214,383.07 H225.5" stroke="#000" stroke-width="5.6"/>
<path d="M214,358.77 H225.5" stroke="#000" stroke-width="5.6"/>
<path d="M208,334.48 H225.5" stroke="#000" stroke-width="5.6"/>
<path d="M214,310.19 H225.5" stroke="#000" stroke-width="5.6"/>
<path d="M214,285.89 H225.5" stroke="#000" stroke-width="5.6"/>
<path d="M214,261.60 H225.5" stroke="#000" stroke-width="5.6"/>
<path d="M214,237.30 H225.5" stroke="#000" stroke-width="5.6"/>
<path d="M208,213.01 H225.5" stroke="#000" stroke-width="5.6"/>
<path d="M214,188.72 H225.5" stroke="#000" stroke-width="5.6"/>
<path d="M214,164.42 H225.5" stroke="#000" stroke-width="5.6"/>
<path d="M254.20,1068.5 V1084.7" stroke="#000" stroke-width="5.6"/>
<path d="M304.60,1068.5 V1078.8" stroke="#000" stroke-width="5.6"/>
<path d="M355.00,1068.5 V1078.8" stroke="#000" stroke-width="5.6"/>
<path d="M405.40,1068.5 V1078.8" stroke="#000" stroke-width="5.6"/>
<path d="M455.80,1068.5 V1078.8" stroke="#000" stroke-width="5.6"/>
<path d="M506.20,1068.5 V1084.7" stroke="#000" stroke-width="5.6"/>
<path d="M556.60,1068.5 V1078.8" stroke="#000" stroke-width="5.6"/>
<path d="M607.00,1068.5 V1078.8" stroke="#000" stroke-width="5.6"/>
<path d="M657.40,1068.5 V1078.8" stroke="#000" stroke-width="5.6"/>
<path d="M707.80,1068.5 V1078.8" stroke="#000" stroke-width="5.6"/>
<path d="M758.20,1068.5 V1084.7" stroke="#000" stroke-width="5.6"/>
<path d="M808.60,1068.5 V1078.8" stroke="#000" stroke-width="5.6"/>
<path d="M859.00,1068.5 V1078.8" stroke="#000" stroke-width="5.6"/>
<path d="M909.40,1068.5 V1078.8" stroke="#000" stroke-width="5.6"/>
<path d="M959.80,1068.5 V1078.8" stroke="#000" stroke-width="5.6"/>
<path d="M1010.20,1068.5 V1084.7" stroke="#000" stroke-width="5.6"/>
<path d="M1060.60,1068.5 V1078.8" stroke="#000" stroke-width="5.6"/>
<path d="M1111.00,1068.5 V1078.8" stroke="#000" stroke-width="5.6"/>
<path d="M1161.40,1068.5 V1078.8" stroke="#000" stroke-width="5.6"/>
<path d="M1211.80,1068.5 V1078.8" stroke="#000" stroke-width="5.6"/>
<path d="M1262.20,1068.5 V1084.7" stroke="#000" stroke-width="5.6"/>
<path d="M1312.60,1068.5 V1078.8" stroke="#000" stroke-width="5.6"/>
<path d="M1363.00,1068.5 V1078.8" stroke="#000" stroke-width="5.6"/>
<path d="M1413.40,1068.5 V1078.8" stroke="#000" stroke-width="5.6"/>
<path d="M1463.80,1068.5 V1078.8" stroke="#000" stroke-width="5.6"/>
<path d="M1514.20,1068.5 V1084.7" stroke="#000" stroke-width="5.6"/>
<path d="M1564.60,1068.5 V1078.8" stroke="#000" stroke-width="5.6"/>
<path d="M1615.00,1068.5 V1078.8" stroke="#000" stroke-width="5.6"/>
<text x="201" y="1077.6" font-family="Liberation Sans, sans-serif" font-size="37.5" text-anchor="end" textLength="64" lengthAdjust="spacingAndGlyphs">100</text>
<text x="201" y="956.1" font-family="Liberation Sans, sans-serif" font-size="37.5" text-anchor="end" textLength="64" lengthAdjust="spacingAndGlyphs">200</text>
<text x="201" y="834.7" font-family="Liberation Sans, sans-serif" font-size="37.5" text-anchor="end" textLength="64" lengthAdjust="spacingAndGlyphs">300</text>
<text x="201" y="713.2" font-family="Liberation Sans, sans-serif" font-size="37.5" text-anchor="end" textLength="64" lengthAdjust="spacingAndGlyphs">400</text>
<text x="201" y="591.7" font-family="Liberation Sans, sans-serif" font-size="37.5" text-anchor="end" textLength="64" lengthAdjust="spacingAndGlyphs">500</text>
<text x="201" y="470.3" font-family="Liberation Sans, sans-serif" font-size="37.5" text-anchor="end" textLength="64" lengthAdjust="spacingAndGlyphs">600</text>
<text x="201" y="348.8" font-family="Liberation Sans, sans-serif" font-size="37.5" text-anchor="end" textLength="64" lengthAdjust="spacingAndGlyphs">700</text>
<text x="201" y="227.3" font-family="Liberation Sans, sans-serif" font-size="37.5" text-anchor="end" textLength="64" lengthAdjust="spacingAndGlyphs">800</text>
<text x="205.2" y="1117.8" font-family="Liberation Sans, sans-serif" font-size="37.5" textLength="98" lengthAdjust="spacingAndGlyphs">85.00</text>
<text x="457.2" y="1117.8" font-family="Liberation Sans, sans-serif" font-size="37.5" textLength="98" lengthAdjust="spacingAndGlyphs">85.05</text>
<text x="709.2" y="1117.8" font-family="Liberation Sans, sans-serif" font-size="37.5" textLength="98" lengthAdjust="spacingAndGlyphs">85.10</text>
<text x="961.2" y="1117.8" font-family="Liberation Sans, sans-serif" font-size="37.5" textLength="98" lengthAdjust="spacingAndGlyphs">85.15</text>
<text x="1213.2" y="1117.8" font-family="Liberation Sans, sans-serif" font-size="37.5" textLength="98" lengthAdjust="spacingAndGlyphs">85.20</text>
<text x="1465.2" y="1117.8" font-family="Liberation Sans, sans-serif" font-size="37.5" textLength="98" lengthAdjust="spacingAndGlyphs">85.25</text>
<text x="820" y="1159.8" font-family="Liberation Sans, sans-serif" font-size="41.7" textLength="203" lengthAdjust="spacingAndGlyphs">Age (Myr)</text>
<text transform="translate(118.6,780.5) rotate(-90)" font-family="Liberation Sans, sans-serif" font-size="41.7" textLength="349" lengthAdjust="spacingAndGlyphs">O1 period (days)</text>
<rect x="235.6" y="154.4" width="306.9" height="92.2" rx="3" ry="3" fill="#fff" fill-opacity="0.8" stroke="#cccccc" stroke-width="1.1"/>
<path d="M243,170.8 H285.6" stroke="#000" stroke-width="2"/>
<circle cx="265.5" cy="171" r="2.4" fill="#000"/>
<text x="303.6" y="178.3" font-family="Liberation Sans, sans-serif" font-size="21.5" textLength="158.4" lengthAdjust="spacingAndGlyphs">m4.90_z0.0070</text>
<circle cx="265.3" cy="216.4" r="7" fill="#fefcca" stroke="#fcf9ae" stroke-width="1.2"/>
<text x="302.8" y="209.4" font-family="Liberation Sans, sans-serif" font-size="21.5" textLength="230" lengthAdjust="spacingAndGlyphs">intersection w/ P,L,T,R</text>
<text x="302.8" y="232.5" font-family="Liberation Sans, sans-serif" font-size="21.5" textLength="156" lengthAdjust="spacingAndGlyphs">loosely defined</text>
<text transform="translate(612.5,894.5) rotate(-85)" font-family="Liberation Sans, sans-serif" font-size="17.5" fill="#111" textLength="33.0" lengthAdjust="spacingAndGlyphs">n=1</text>
<text transform="translate(648.6,884.8) rotate(-85)" font-family="Liberation Sans, sans-serif" font-size="17.5" fill="#111" textLength="33.0" lengthAdjust="spacingAndGlyphs">n=2</text>
<text transform="translate(667.0,880.3) rotate(-85)" font-family="Liberation Sans, sans-serif" font-size="17.5" fill="#111" textLength="33.0" lengthAdjust="spacingAndGlyphs">n=3</text>
<text transform="translate(685.0,876.7) rotate(-85)" font-family="Liberation Sans, sans-serif" font-size="17.5" fill="#111" textLength="33.0" lengthAdjust="spacingAndGlyphs">n=4</text>
<text transform="translate(702.7,872.1) rotate(-85)" font-family="Liberation Sans, sans-serif" font-size="17.5" fill="#111" textLength="33.0" lengthAdjust="spacingAndGlyphs">n=5</text>
<text transform="translate(720.7,868.2) rotate(-85)" font-family="Liberation Sans, sans-serif" font-size="17.5" fill="#111" textLength="33.0" lengthAdjust="spacingAndGlyphs">n=6</text>
<text transform="translate(738.3,863.3) rotate(-85)" font-family="Liberation Sans, sans-serif" font-size="17.5" fill="#111" textLength="33.0" lengthAdjust="spacingAndGlyphs">n=7</text>
<text transform="translate(755.6,859.8) rotate(-85)" font-family="Liberation Sans, sans-serif" font-size="17.5" fill="#111" textLength="33.0" lengthAdjust="spacingAndGlyphs">n=8</text>
<text transform="translate(773.0,855.8) rotate(-85)" font-family="Liberation Sans, sans-serif" font-size="17.5" fill="#111" textLength="33.0" lengthAdjust="spacingAndGlyphs">n=9</text>
<text transform="translate(807.6,846.8) rotate(-85)" font-family="Liberation Sans, sans-serif" font-size="17.5" fill="#111" textLength="43.0" lengthAdjust="spacingAndGlyphs">n=10</text>
<text transform="translate(824.4,843.8) rotate(-85)" font-family="Liberation Sans, sans-serif" font-size="17.5" fill="#111" textLength="43.0" lengthAdjust="spacingAndGlyphs">n=11</text>
<text transform="translate(841.4,838.8) rotate(-85)" font-family="Liberation Sans, sans-serif" font-size="17.5" fill="#111" textLength="43.0" lengthAdjust="spacingAndGlyphs">n=12</text>
<text transform="translate(857.6,835.8) rotate(-85)" font-family="Liberation Sans, sans-serif" font-size="17.5" fill="#111" textLength="43.0" lengthAdjust="spacingAndGlyphs">n=13</text>
<text transform="translate(874.4,830.8) rotate(-85)" font-family="Liberation Sans, sans-serif" font-size="17.5" fill="#111" textLength="43.0" lengthAdjust="spacingAndGlyphs">n=14</text>
<text transform="translate(890.6,826.8) rotate(-85)" font-family="Liberation Sans, sans-serif" font-size="17.5" fill="#111" textLength="43.0" lengthAdjust="spacingAndGlyphs">n=15</text>
<text transform="translate(906.6,823.8) rotate(-85)" font-family="Liberation Sans, sans-serif" font-size="17.5" fill="#111" textLength="43.0" lengthAdjust="spacingAndGlyphs">n=16</text>
<text transform="translate(938.4,816.3) rotate(-85)" font-family="Liberation Sans, sans-serif" font-size="17.5" fill="#111" textLength="43.0" lengthAdjust="spacingAndGlyphs">n=17</text>
<text transform="translate(970.3,807.5) rotate(-85)" font-family="Liberation Sans, sans-serif" font-size="17.5" fill="#111" textLength="43.0" lengthAdjust="spacingAndGlyphs">n=18</text>
<text transform="translate(985.5,802.8) rotate(-85)" font-family="Liberation Sans, sans-serif" font-size="17.5" fill="#111" textLength="43.0" lengthAdjust="spacingAndGlyphs">n=19</text>
<text transform="translate(1001.1,799.3) rotate(-85)" font-family="Liberation Sans, sans-serif" font-size="17.5" fill="#111" textLength="43.0" lengthAdjust="spacingAndGlyphs">n=20</text>
<text transform="translate(1046.4,785.3) rotate(-85)" font-family="Liberation Sans, sans-serif" font-size="17.5" fill="#111" textLength="43.0" lengthAdjust="spacingAndGlyphs">n=21</text>
<text transform="translate(1060.9,779.8) rotate(-85)" font-family="Liberation Sans, sans-serif" font-size="17.5" fill="#111" textLength="43.0" lengthAdjust="spacingAndGlyphs">n=22</text>
<text transform="translate(1075.8,776.0) rotate(-85)" font-family="Liberation Sans, sans-serif" font-size="17.5" fill="#111" textLength="43.0" lengthAdjust="spacingAndGlyphs">n=23</text>
<text transform="translate(1090.5,771.3) rotate(-85)" font-family="Liberation Sans, sans-serif" font-size="17.5" fill="#111" textLength="43.0" lengthAdjust="spacingAndGlyphs">n=24</text>
<text transform="translate(1119.2,760.8) rotate(-85)" font-family="Liberation Sans, sans-serif" font-size="17.5" fill="#111" textLength="43.0" lengthAdjust="spacingAndGlyphs">n=25</text>
<text transform="translate(1133.3,755.5) rotate(-85)" font-family="Liberation Sans, sans-serif" font-size="17.5" fill="#111" textLength="43.0" lengthAdjust="spacingAndGlyphs">n=26</text>
<text transform="translate(1147.5,748.8) rotate(-85)" font-family="Liberation Sans, sans-serif" font-size="17.5" fill="#111" textLength="43.0" lengthAdjust="spacingAndGlyphs">n=27</text>
<text transform="translate(1161.3,743.5) rotate(-85)" font-family="Liberation Sans, sans-serif" font-size="17.5" fill="#111" textLength="43.0" lengthAdjust="spacingAndGlyphs">n=28</text>
<text transform="translate(1175.2,738.1) rotate(-85)" font-family="Liberation Sans, sans-serif" font-size="17.5" fill="#111" textLength="43.0" lengthAdjust="spacingAndGlyphs">n=29</text>
<text transform="translate(1202.1,724.8) rotate(-85)" font-family="Liberation Sans, sans-serif" font-size="17.5" fill="#111" textLength="43.0" lengthAdjust="spacingAndGlyphs">n=30</text>
<text transform="translate(1228.8,712.8) rotate(-85)" font-family="Liberation Sans, sans-serif" font-size="17.5" fill="#111" textLength="43.0" lengthAdjust="spacingAndGlyphs">n=31</text>
<text transform="translate(1241.9,706.1) rotate(-85)" font-family="Liberation Sans, sans-serif" font-size="17.5" fill="#111" textLength="43.0" lengthAdjust="spacingAndGlyphs">n=32</text>
<text transform="translate(1254.7,699.5) rotate(-85)" font-family="Liberation Sans, sans-serif" font-size="17.5" fill="#111" textLength="43.0" lengthAdjust="spacingAndGlyphs">n=33</text>
<text transform="translate(1267.5,692.8) rotate(-85)" font-family="Liberation Sans, sans-serif" font-size="17.5" fill="#111" textLength="43.0" lengthAdjust="spacingAndGlyphs">n=34</text>
<text transform="translate(1280.6,685.8) rotate(-85)" font-family="Liberation Sans, sans-serif" font-size="17.5" fill="#111" textLength="43.0" lengthAdjust="spacingAndGlyphs">n=35</text>
<text transform="translate(1305.6,670.8) rotate(-85)" font-family="Liberation Sans, sans-serif" font-size="17.5" fill="#111" textLength="43.0" lengthAdjust="spacingAndGlyphs">n=36</text>
<text transform="translate(1317.6,663.3) rotate(-85)" font-family="Liberation Sans, sans-serif" font-size="17.5" fill="#111" textLength="43.0" lengthAdjust="spacingAndGlyphs">n=37</text>
<text transform="translate(1329.9,655.2) rotate(-85)" font-family="Liberation Sans, sans-serif" font-size="17.5" fill="#111" textLength="43.0" lengthAdjust="spacingAndGlyphs">n=38</text>
<text transform="translate(1342.5,646.8) rotate(-85)" font-family="Liberation Sans, sans-serif" font-size="17.5" fill="#111" textLength="43.0" lengthAdjust="spacingAndGlyphs">n=39</text>
<text transform="translate(1354.5,638.4) rotate(-85)" font-family="Liberation Sans, sans-serif" font-size="17.5" fill="#111" textLength="43.0" lengthAdjust="spacingAndGlyphs">n=40</text>
<text transform="translate(1366.5,628.8) rotate(-85)" font-family="Liberation Sans, sans-serif" font-size="17.5" fill="#111" textLength="43.0" lengthAdjust="spacingAndGlyphs">n=41</text>
<text transform="translate(1412.4,588.3) rotate(-85)" font-family="Liberation Sans, sans-serif" font-size="17.5" fill="#111" textLength="43.0" lengthAdjust="spacingAndGlyphs">n=42</text>
<text transform="translate(1435.5,564.8) rotate(-85)" font-family="Liberation Sans, sans-serif" font-size="17.5" fill="#111" textLength="43.0" lengthAdjust="spacingAndGlyphs">n=43</text>
<text transform="translate(1446.8,551.1) rotate(-85)" font-family="Liberation Sans, sans-serif" font-size="17.5" fill="#111" textLength="43.0" lengthAdjust="spacingAndGlyphs">n=44</text>
<text transform="translate(1468.8,512.6) rotate(-85)" font-family="Liberation Sans, sans-serif" font-size="17.5" fill="#111" textLength="43.0" lengthAdjust="spacingAndGlyphs">n=45</text>
<text transform="translate(1480.0,495.1) rotate(-85)" font-family="Liberation Sans, sans-serif" font-size="17.5" fill="#111" textLength="43.0" lengthAdjust="spacingAndGlyphs">n=46</text>
<text transform="translate(1491.5,472.3) rotate(-85)" font-family="Liberation Sans, sans-serif" font-size="17.5" fill="#111" textLength="43.0" lengthAdjust="spacingAndGlyphs">n=47</text>
<text transform="translate(1503.0,451.3) rotate(-85)" font-family="Liberation Sans, sans-serif" font-size="17.5" fill="#111" textLength="43.0" lengthAdjust="spacingAndGlyphs">n=48</text>
</svg></body></html>
